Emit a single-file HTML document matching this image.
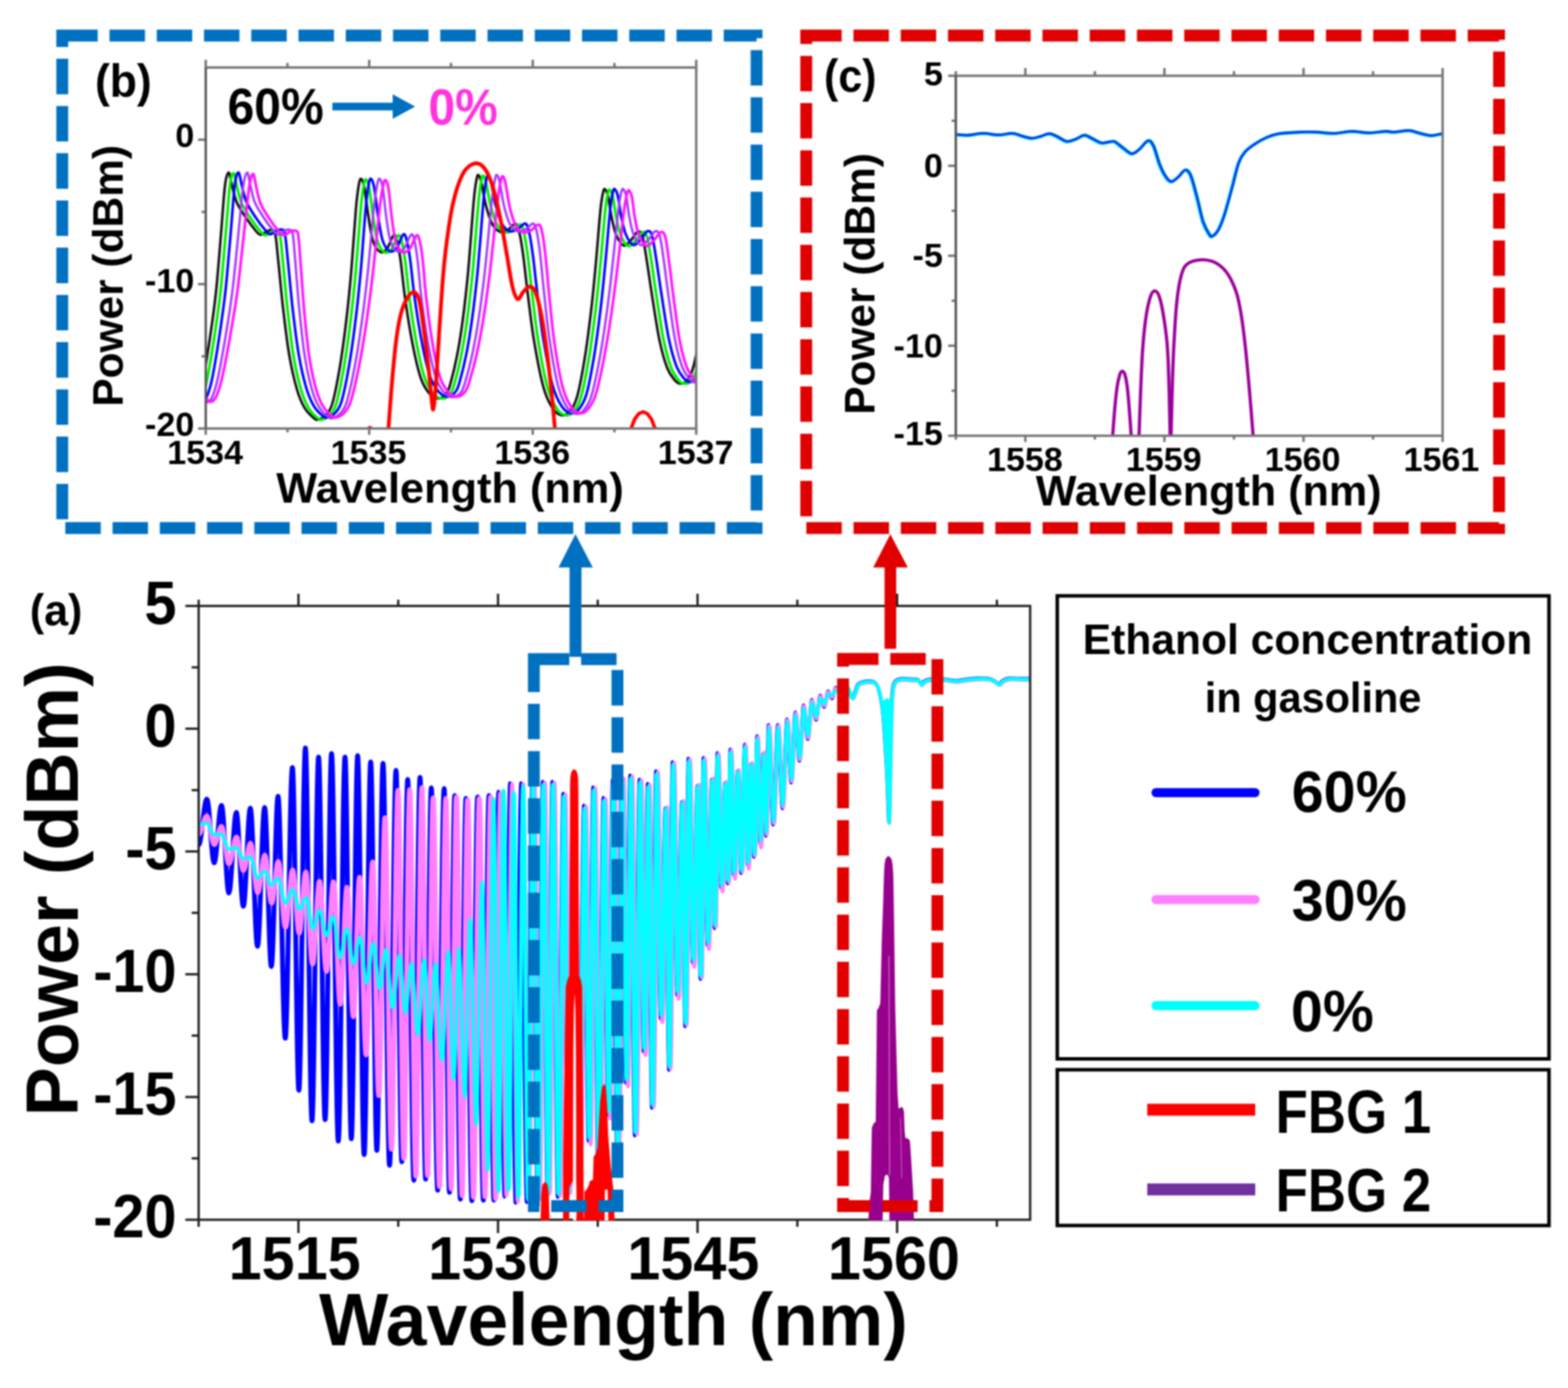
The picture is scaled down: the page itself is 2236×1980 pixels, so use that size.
<!DOCTYPE html>
<html lang="en">
<head>
<meta charset="utf-8">
<title>Ethanol concentration in gasoline - spectra</title>
<style>
html,body{margin:0;padding:0;background:#fff;}
body{width:2236px;height:1980px;overflow:hidden;}
svg{display:block;}
text{font-family:"Liberation Sans",Arial,Helvetica,sans-serif;font-weight:bold;fill:#000;}
</style>
</head>
<body>
<svg width="2236" height="1980" viewBox="0 0 2236 1980">
<defs><filter id="soft" x="0" y="0" width="2236" height="1980" filterUnits="userSpaceOnUse" color-interpolation-filters="sRGB"><feGaussianBlur stdDeviation="0.85"/></filter></defs>
<rect x="0" y="0" width="2236" height="1980" fill="#ffffff"/>
<g filter="url(#soft)">
<rect x="0" y="0" width="2236" height="1980" fill="#ffffff"/>
<defs><clipPath id="clipA"><rect x="283.3" y="864.4" width="1185.7" height="876.6"/></clipPath></defs>
<defs><clipPath id="clipAL"><rect x="283.3" y="864.4" width="428.7" height="876.6"/></clipPath><clipPath id="clipAR"><rect x="712" y="864.4" width="757" height="876.6"/></clipPath></defs>
<g fill="none" stroke-linejoin="round" stroke-linecap="round">
<path d="M283.3 1205C287.5 1205 290.8 1140 295 1140C298.7 1140 301.7 1230.8 305.4 1230.8C309.1 1230.8 312.1 1149 315.8 1149C319.6 1149 322.6 1273.7 326.4 1273.7C330.2 1273.7 333.2 1159 337 1159C340.6 1159 343.4 1292.7 347 1292.7C350.6 1292.7 353.4 1153 357 1153C360.7 1153 363.5 1350 367.2 1350C370.9 1350 373.7 1152 377.4 1152C380.8 1152 383.5 1378.7 386.9 1378.7C390.4 1378.7 393.1 1136 396.5 1136C400.2 1136 403.1 1481 406.8 1481C410.4 1481 413.3 1095 417 1095C420.3 1095 422.9 1555.2 426.2 1555.2C429.6 1555.2 432.2 1067 435.5 1067C438.9 1067 441.5 1598.8 444.9 1598.8C448.3 1598.8 450.9 1080 454.3 1080C457.6 1080 460.2 1597.2 463.6 1597.2C466.9 1597.2 469.5 1075 472.8 1075C476.3 1075 478.9 1627.8 482.4 1627.8C485.9 1627.8 488.5 1080 492 1080C495.2 1080 497.8 1624.4 501 1624.4C504.2 1624.4 506.8 1078 510 1078C513.3 1078 516 1647 519.3 1647C522.6 1647 525.3 1087 528.6 1087C531.8 1087 534.2 1641 537.4 1641C540.6 1641 543 1089 546.2 1089C549.5 1089 552.1 1662.3 555.5 1662.3C558.8 1662.3 561.4 1099 564.7 1099C567.7 1099 570 1657.2 573 1657.2C576.1 1657.2 578.4 1112 581.4 1112C584.6 1112 587 1683.7 590.2 1683.7C593.4 1683.7 595.8 1109 599 1109C601.9 1109 604.1 1682.1 607 1682.1C609.9 1682.1 612.1 1124 615 1124C618.3 1124 620.9 1697.8 624.2 1697.8C627.5 1697.8 630.1 1125 633.4 1125C636.1 1125 638.2 1700.9 641 1700.9C643.7 1700.9 645.8 1135 648.5 1135C651.4 1135 653.6 1710.6 656.5 1710.6C659.4 1710.6 661.6 1139 664.5 1139C667.5 1139 669.8 1712.9 672.9 1712.9C675.9 1712.9 678.2 1137 681.2 1137C684.1 1137 686.4 1712.1 689.3 1712.1C692.2 1712.1 694.5 1135 697.4 1135C699.9 1135 701.9 1712 704.4 1712C706.9 1712 708.9 1130 711.4 1130C714.3 1130 716.5 1707.3 719.3 1707.3C722.1 1707.3 724.4 1117 727.2 1117C730 1117 732.2 1716.1 735.1 1716.1C737.9 1716.1 740.1 1117 743 1117C745.9 1117 748.1 1715 751 1715C753.9 1715 756.1 1115 759 1115C761.7 1115 763.8 1713 766.5 1713C769.1 1713 771.2 1115 773.9 1115C776.3 1115 778.3 1704.2 780.7 1704.2C783.1 1704.2 785.1 1115 787.5 1115C790.3 1115 792.5 1707.7 795.4 1707.7C798.2 1707.7 800.4 1132 803.2 1132C805.6 1132 807.6 1703.5 810 1703.5C812.4 1703.5 814.4 1139 816.8 1139C819.6 1139 821.9 1696.2 824.7 1696.2C827.5 1696.2 829.8 1149 832.6 1149C835 1149 836.8 1627.6 839.2 1627.6C841.6 1627.6 843.4 1123 845.8 1123C848.4 1123 850.5 1674.9 853.1 1674.9C855.7 1674.9 857.8 1138 860.4 1138C862.8 1138 864.7 1590.5 867 1590.5C869.4 1590.5 871.3 1112 873.7 1112C876 1112 877.7 1651 880 1651C882.3 1651 884 1109 886.3 1109C888.5 1109 890.2 1544.8 892.5 1544.8C894.7 1544.8 896.4 1106 898.6 1106C901 1106 902.8 1620 905.2 1620C907.6 1620 909.5 1112 911.9 1112C914 1112 915.6 1500.2 917.8 1500.2C919.9 1500.2 921.6 1118 923.7 1118C925.8 1118 927.5 1580.5 929.6 1580.5C931.7 1580.5 933.3 1100 935.4 1100C937.8 1100 939.7 1453.1 942.1 1453.1C944.5 1453.1 946.3 1153 948.7 1153C950.6 1153 952 1526.3 953.9 1526.3C955.7 1526.3 957.2 1087 959 1087C961.4 1087 963.3 1419.7 965.7 1419.7C968.1 1419.7 969.9 1144 972.3 1144C974 1144 975.3 1464.1 977 1464.1C978.7 1464.1 980 1082 981.7 1082C984 1082 985.8 1374.1 988.1 1374.1C990.3 1374.1 992.1 1121 994.4 1121C996 1121 997.2 1396.8 998.8 1396.8C1000.4 1396.8 1001.6 1081 1003.2 1081C1005.3 1081 1007 1349 1009.1 1349C1011.3 1349 1012.9 1112 1015 1112C1016.5 1112 1017.6 1324.3 1019 1324.3C1020.4 1324.3 1021.5 1074 1023 1074C1025 1074 1026.5 1266.7 1028.5 1266.7C1030.5 1266.7 1032.1 1117 1034.1 1117C1035.4 1117 1036.5 1260.5 1037.8 1260.5C1039.2 1260.5 1040.2 1069 1041.5 1069C1043.4 1069 1044.8 1248.6 1046.6 1248.6C1048.5 1248.6 1049.9 1100 1051.8 1100C1053.6 1100 1055.1 1245.6 1056.9 1245.6C1058.8 1245.6 1060.2 1062 1062.1 1062C1063.7 1062 1064.9 1234.3 1066.5 1234.3C1068.1 1234.3 1069.3 1090 1070.9 1090C1072.5 1090 1073.7 1222.5 1075.3 1222.5C1076.9 1222.5 1078.2 1050 1079.7 1050C1081.4 1050 1082.6 1204 1084.2 1204C1085.8 1204 1087.1 1075 1088.7 1075C1090 1075 1091 1192.4 1092.3 1192.4C1093.7 1192.4 1094.7 1034 1096 1034C1098.4 1034 1100.2 1176.5 1102.6 1176.5C1105 1176.5 1106.9 1034 1109.2 1034C1111.6 1034 1113.5 1153.3 1115.9 1153.3C1118.2 1153.3 1120.1 1026 1122.5 1026C1124.6 1026 1126.2 1116.6 1128.3 1116.6C1130.5 1116.6 1132.1 1016 1134.2 1016C1136.3 1016 1138 1085.6 1140.1 1085.6C1142.3 1085.6 1143.9 1006 1146 1006C1148.2 1006 1149.8 1054.3 1152 1054.3C1154.1 1054.3 1155.8 998 1157.9 998C1160 998 1161.6 1027.1 1163.8 1027.1C1165.9 1027.1 1167.5 992 1169.6 992C1171.7 992 1173.2 1008.7 1175.3 1008.7C1177.3 1008.7 1178.9 986 1181 986C1182.9 986 1184.5 996.4 1186.5 996.4C1188.5 996.4 1190 981 1192 981" stroke="#0000ff" stroke-width="6.9" clip-path="url(#clipAL)"/>
<path d="M283.3 1205C287.5 1205 290.8 1140 295 1140C298.7 1140 301.7 1230.8 305.4 1230.8C309.1 1230.8 312.1 1149 315.8 1149C319.6 1149 322.6 1273.7 326.4 1273.7C330.2 1273.7 333.2 1159 337 1159C340.6 1159 343.4 1292.7 347 1292.7C350.6 1292.7 353.4 1153 357 1153C360.7 1153 363.5 1350 367.2 1350C370.9 1350 373.7 1152 377.4 1152C380.8 1152 383.5 1378.7 386.9 1378.7C390.4 1378.7 393.1 1136 396.5 1136C400.2 1136 403.1 1481 406.8 1481C410.4 1481 413.3 1095 417 1095C420.3 1095 422.9 1555.2 426.2 1555.2C429.6 1555.2 432.2 1067 435.5 1067C438.9 1067 441.5 1598.8 444.9 1598.8C448.3 1598.8 450.9 1080 454.3 1080C457.6 1080 460.2 1597.2 463.6 1597.2C466.9 1597.2 469.5 1075 472.8 1075C476.3 1075 478.9 1627.8 482.4 1627.8C485.9 1627.8 488.5 1080 492 1080C495.2 1080 497.8 1624.4 501 1624.4C504.2 1624.4 506.8 1078 510 1078C513.3 1078 516 1647 519.3 1647C522.6 1647 525.3 1087 528.6 1087C531.8 1087 534.2 1641 537.4 1641C540.6 1641 543 1089 546.2 1089C549.5 1089 552.1 1662.3 555.5 1662.3C558.8 1662.3 561.4 1099 564.7 1099C567.7 1099 570 1657.2 573 1657.2C576.1 1657.2 578.4 1112 581.4 1112C584.6 1112 587 1683.7 590.2 1683.7C593.4 1683.7 595.8 1109 599 1109C601.9 1109 604.1 1682.1 607 1682.1C609.9 1682.1 612.1 1124 615 1124C618.3 1124 620.9 1697.8 624.2 1697.8C627.5 1697.8 630.1 1125 633.4 1125C636.1 1125 638.2 1700.9 641 1700.9C643.7 1700.9 645.8 1135 648.5 1135C651.4 1135 653.6 1710.6 656.5 1710.6C659.4 1710.6 661.6 1139 664.5 1139C667.5 1139 669.8 1712.9 672.9 1712.9C675.9 1712.9 678.2 1137 681.2 1137C684.1 1137 686.4 1712.1 689.3 1712.1C692.2 1712.1 694.5 1135 697.4 1135C699.9 1135 701.9 1712 704.4 1712C706.9 1712 708.9 1130 711.4 1130C714.3 1130 716.5 1707.3 719.3 1707.3C722.1 1707.3 724.4 1117 727.2 1117C730 1117 732.2 1716.1 735.1 1716.1C737.9 1716.1 740.1 1117 743 1117C745.9 1117 748.1 1715 751 1715C753.9 1715 756.1 1115 759 1115C761.7 1115 763.8 1713 766.5 1713C769.1 1713 771.2 1115 773.9 1115C776.3 1115 778.3 1704.2 780.7 1704.2C783.1 1704.2 785.1 1115 787.5 1115C790.3 1115 792.5 1707.7 795.4 1707.7C798.2 1707.7 800.4 1132 803.2 1132C805.6 1132 807.6 1703.5 810 1703.5C812.4 1703.5 814.4 1139 816.8 1139C819.6 1139 821.9 1696.2 824.7 1696.2C827.5 1696.2 829.8 1149 832.6 1149C835 1149 836.8 1627.6 839.2 1627.6C841.6 1627.6 843.4 1123 845.8 1123C848.4 1123 850.5 1674.9 853.1 1674.9C855.7 1674.9 857.8 1138 860.4 1138C862.8 1138 864.7 1590.5 867 1590.5C869.4 1590.5 871.3 1112 873.7 1112C876 1112 877.7 1651 880 1651C882.3 1651 884 1109 886.3 1109C888.5 1109 890.2 1544.8 892.5 1544.8C894.7 1544.8 896.4 1106 898.6 1106C901 1106 902.8 1620 905.2 1620C907.6 1620 909.5 1112 911.9 1112C914 1112 915.6 1500.2 917.8 1500.2C919.9 1500.2 921.6 1118 923.7 1118C925.8 1118 927.5 1580.5 929.6 1580.5C931.7 1580.5 933.3 1100 935.4 1100C937.8 1100 939.7 1453.1 942.1 1453.1C944.5 1453.1 946.3 1153 948.7 1153C950.6 1153 952 1526.3 953.9 1526.3C955.7 1526.3 957.2 1087 959 1087C961.4 1087 963.3 1419.7 965.7 1419.7C968.1 1419.7 969.9 1144 972.3 1144C974 1144 975.3 1464.1 977 1464.1C978.7 1464.1 980 1082 981.7 1082C984 1082 985.8 1374.1 988.1 1374.1C990.3 1374.1 992.1 1121 994.4 1121C996 1121 997.2 1396.8 998.8 1396.8C1000.4 1396.8 1001.6 1081 1003.2 1081C1005.3 1081 1007 1349 1009.1 1349C1011.3 1349 1012.9 1112 1015 1112C1016.5 1112 1017.6 1324.3 1019 1324.3C1020.4 1324.3 1021.5 1074 1023 1074C1025 1074 1026.5 1266.7 1028.5 1266.7C1030.5 1266.7 1032.1 1117 1034.1 1117C1035.4 1117 1036.5 1260.5 1037.8 1260.5C1039.2 1260.5 1040.2 1069 1041.5 1069C1043.4 1069 1044.8 1248.6 1046.6 1248.6C1048.5 1248.6 1049.9 1100 1051.8 1100C1053.6 1100 1055.1 1245.6 1056.9 1245.6C1058.8 1245.6 1060.2 1062 1062.1 1062C1063.7 1062 1064.9 1234.3 1066.5 1234.3C1068.1 1234.3 1069.3 1090 1070.9 1090C1072.5 1090 1073.7 1222.5 1075.3 1222.5C1076.9 1222.5 1078.2 1050 1079.7 1050C1081.4 1050 1082.6 1204 1084.2 1204C1085.8 1204 1087.1 1075 1088.7 1075C1090 1075 1091 1192.4 1092.3 1192.4C1093.7 1192.4 1094.7 1034 1096 1034C1098.4 1034 1100.2 1176.5 1102.6 1176.5C1105 1176.5 1106.9 1034 1109.2 1034C1111.6 1034 1113.5 1153.3 1115.9 1153.3C1118.2 1153.3 1120.1 1026 1122.5 1026C1124.6 1026 1126.2 1116.6 1128.3 1116.6C1130.5 1116.6 1132.1 1016 1134.2 1016C1136.3 1016 1138 1085.6 1140.1 1085.6C1142.3 1085.6 1143.9 1006 1146 1006C1148.2 1006 1149.8 1054.3 1152 1054.3C1154.1 1054.3 1155.8 998 1157.9 998C1160 998 1161.6 1027.1 1163.8 1027.1C1165.9 1027.1 1167.5 992 1169.6 992C1171.7 992 1173.2 1008.7 1175.3 1008.7C1177.3 1008.7 1178.9 986 1181 986C1182.9 986 1184.5 996.4 1186.5 996.4C1188.5 996.4 1190 981 1192 981" stroke="#0000ff" stroke-width="5" clip-path="url(#clipAR)"/>
<path d="M283.3 1190C287.5 1190 290.8 1164 295 1164C298.8 1164 301.7 1204.8 305.5 1204.8C309.2 1204.8 312.1 1179 315.9 1179C319.7 1179 322.7 1232.2 326.5 1232.2C330.4 1232.2 333.3 1194 337.2 1194C340.8 1194 343.6 1241.6 347.2 1241.6C350.8 1241.6 353.6 1203 357.2 1203C360.9 1203 363.8 1273.2 367.5 1273.2C371.2 1273.2 374 1220 377.7 1220C381.1 1220 383.8 1288.3 387.3 1288.3C390.7 1288.3 393.4 1229 396.9 1229C400.6 1229 403.4 1322.9 407.1 1322.9C410.8 1322.9 413.7 1241 417.4 1241C420.8 1241 423.4 1331.5 426.7 1331.5C430 1331.5 432.6 1243.9 436 1243.9C439.5 1243.9 442.2 1375.3 445.7 1375.3C449.3 1375.3 452.1 1257.3 455.7 1257.3C459.3 1257.3 462 1385.7 465.6 1385.7C469.1 1385.7 471.9 1258 475.5 1258C479 1258 481.7 1432.5 485.2 1432.5C488.7 1432.5 491.3 1265.7 494.8 1265.7C498 1265.7 500.6 1450.2 503.8 1450.2C507 1450.2 509.6 1251.5 512.8 1251.5C516.1 1251.5 518.8 1504.9 522.1 1504.9C525.4 1504.9 528.1 1229.5 531.4 1229.5C534.6 1229.5 537 1562.8 540.2 1562.8C543.4 1562.8 545.8 1166.4 549 1166.4C552.3 1166.4 554.9 1639.3 558.2 1639.3C561.6 1639.3 564.2 1127.5 567.5 1127.5C570.5 1127.5 572.8 1652.5 575.8 1652.5C578.9 1652.5 581.2 1126.5 584.2 1126.5C587.4 1126.5 589.8 1677.8 593 1677.8C596.1 1677.8 598.6 1123.4 601.7 1123.4C604.6 1123.4 606.8 1677.1 609.7 1677.1C612.5 1677.1 614.7 1138.3 617.6 1138.3C620.9 1138.3 623.4 1692.8 626.7 1692.8C630 1692.8 632.6 1139.1 635.9 1139.1C638.6 1139.1 640.6 1695.9 643.3 1695.9C646.1 1695.9 648.2 1137 650.9 1137C653.8 1137 656 1705.6 658.9 1705.6C661.7 1705.6 664 1141 666.9 1141C669.9 1141 672.2 1707.9 675.2 1707.9C678.2 1707.9 680.5 1139 683.5 1139C686.4 1139 688.7 1707.1 691.6 1707.1C694.5 1707.1 696.8 1137 699.7 1137C702.3 1137 704.3 1710 706.8 1710C709.4 1710 711.4 1131.5 714 1131.5C716.9 1131.5 719.2 1705.3 722.1 1705.3C725 1705.3 727.2 1118.5 730.2 1118.5C733 1118.5 735.3 1714.1 738.2 1714.1C741.1 1714.1 743.3 1118.5 746.2 1118.5C749.1 1118.5 751.3 1713 754.2 1713C757.1 1713 759.3 1116.5 762.2 1116.5C764.9 1116.5 767 1711 769.6 1711C772.3 1711 774.4 1116.5 777.1 1116.5C779.5 1116.5 781.4 1702.2 783.9 1702.2C786.3 1702.2 788.2 1116.5 790.7 1116.5C793.5 1116.5 795.7 1705.7 798.5 1705.7C801.3 1705.7 803.5 1133.5 806.3 1133.5C808.8 1133.5 810.7 1701.5 813.1 1701.5C815.6 1701.5 817.5 1140.5 819.9 1140.5C822.8 1140.5 825 1694.2 827.8 1694.2C830.6 1694.2 832.9 1150.5 835.7 1150.5C838.1 1150.5 839.9 1632.6 842.3 1632.6C844.7 1632.6 846.5 1124.5 848.9 1124.5C851.5 1124.5 853.5 1672.9 856.2 1672.9C858.8 1672.9 860.8 1139.5 863.5 1139.5C865.8 1139.5 867.7 1595.5 870.1 1595.5C872.5 1595.5 874.3 1113.5 876.7 1113.5C879 1113.5 880.8 1649 883 1649C885.3 1649 887.1 1110.5 889.3 1110.5C891.5 1110.5 893.2 1549.8 895.5 1549.8C897.7 1549.8 899.4 1107.5 901.6 1107.5C904 1107.5 905.8 1618 908.2 1618C910.5 1618 912.4 1113.5 914.7 1113.5C916.8 1113.5 918.5 1505.2 920.6 1505.2C922.7 1505.2 924.3 1119.5 926.5 1119.5C928.5 1119.5 930.2 1578.5 932.3 1578.5C934.4 1578.5 936 1101.5 938.1 1101.5C940.4 1101.5 942.3 1458.1 944.6 1458.1C947 1458.1 948.8 1151.5 951.2 1151.5C953 1151.5 954.5 1524.3 956.3 1524.3C958.2 1524.3 959.6 1088.5 961.4 1088.5C963.8 1088.5 965.6 1424.7 968 1424.7C970.4 1424.7 972.2 1142.5 974.6 1142.5C976.2 1142.5 977.6 1462.1 979.2 1462.1C980.9 1462.1 982.2 1083.5 983.9 1083.5C986.2 1083.5 987.9 1379.1 990.2 1379.1C992.4 1379.1 994.2 1119.5 996.4 1119.5C998 1119.5 999.2 1394.8 1000.8 1394.8C1002.4 1394.8 1003.6 1082.5 1005.2 1082.5C1007.3 1082.5 1008.9 1354 1011 1354C1013.2 1354 1014.8 1110.5 1016.9 1110.5C1018.3 1110.5 1019.4 1322.3 1020.8 1322.3C1022.2 1322.3 1023.3 1075.5 1024.8 1075.5C1026.7 1075.5 1028.3 1271.7 1030.3 1271.7C1032.3 1271.7 1033.8 1115.5 1035.8 1115.5C1037.1 1115.5 1038.1 1258.5 1039.5 1258.5C1040.8 1258.5 1041.8 1070.5 1043.1 1070.5C1045 1070.5 1046.4 1253.6 1048.2 1253.6C1050 1253.6 1051.5 1098.5 1053.3 1098.5C1055.1 1098.5 1056.6 1243.6 1058.4 1243.6C1060.2 1243.6 1061.7 1063.5 1063.5 1063.5C1065.1 1063.5 1066.3 1239.3 1067.9 1239.3C1069.5 1239.3 1070.7 1088.5 1072.3 1088.5C1073.8 1088.5 1075.1 1220.5 1076.6 1220.5C1078.2 1220.5 1079.4 1051.5 1081 1051.5C1082.6 1051.5 1083.9 1209 1085.4 1209C1087 1209 1088.3 1073.5 1089.9 1073.5C1091.2 1073.5 1092.2 1190.4 1093.5 1190.4C1094.8 1190.4 1095.8 1035.5 1097.1 1035.5C1099.5 1035.5 1101.3 1174.5 1103.7 1174.5C1106 1174.5 1107.9 1035.5 1110.2 1035.5C1112.6 1035.5 1114.4 1151.3 1116.8 1151.3C1119.1 1151.3 1121 1027.5 1123.3 1027.5C1125.4 1027.5 1127 1114.6 1129.1 1114.6C1131.2 1114.6 1132.8 1017.5 1134.9 1017.5C1137 1017.5 1138.7 1083.6 1140.8 1083.6C1142.9 1083.6 1144.5 1007.5 1146.6 1007.5C1148.7 1007.5 1150.4 1052.3 1152.5 1052.3C1154.6 1052.3 1156.2 999.5 1158.3 999.5C1160.4 999.5 1162 1025.1 1164.1 1025.1C1166.2 1025.1 1167.8 993.5 1169.9 993.5C1171.9 993.5 1173.5 1006.7 1175.5 1006.7C1177.5 1006.7 1179.1 987.5 1181.1 987.5C1183.1 987.5 1184.6 994.4 1186.6 994.4C1188.5 994.4 1190.1 982.5 1192 982.5" stroke="#ff80ff" stroke-width="7" clip-path="url(#clipAL)"/>
<path d="M283.3 1190C287.5 1190 290.8 1164 295 1164C298.8 1164 301.7 1204.8 305.5 1204.8C309.2 1204.8 312.1 1179 315.9 1179C319.7 1179 322.7 1232.2 326.5 1232.2C330.4 1232.2 333.3 1194 337.2 1194C340.8 1194 343.6 1241.6 347.2 1241.6C350.8 1241.6 353.6 1203 357.2 1203C360.9 1203 363.8 1273.2 367.5 1273.2C371.2 1273.2 374 1220 377.7 1220C381.1 1220 383.8 1288.3 387.3 1288.3C390.7 1288.3 393.4 1229 396.9 1229C400.6 1229 403.4 1322.9 407.1 1322.9C410.8 1322.9 413.7 1241 417.4 1241C420.8 1241 423.4 1331.5 426.7 1331.5C430 1331.5 432.6 1243.9 436 1243.9C439.5 1243.9 442.2 1375.3 445.7 1375.3C449.3 1375.3 452.1 1257.3 455.7 1257.3C459.3 1257.3 462 1385.7 465.6 1385.7C469.1 1385.7 471.9 1258 475.5 1258C479 1258 481.7 1432.5 485.2 1432.5C488.7 1432.5 491.3 1265.7 494.8 1265.7C498 1265.7 500.6 1450.2 503.8 1450.2C507 1450.2 509.6 1251.5 512.8 1251.5C516.1 1251.5 518.8 1504.9 522.1 1504.9C525.4 1504.9 528.1 1229.5 531.4 1229.5C534.6 1229.5 537 1562.8 540.2 1562.8C543.4 1562.8 545.8 1166.4 549 1166.4C552.3 1166.4 554.9 1639.3 558.2 1639.3C561.6 1639.3 564.2 1127.5 567.5 1127.5C570.5 1127.5 572.8 1652.5 575.8 1652.5C578.9 1652.5 581.2 1126.5 584.2 1126.5C587.4 1126.5 589.8 1677.8 593 1677.8C596.1 1677.8 598.6 1123.4 601.7 1123.4C604.6 1123.4 606.8 1677.1 609.7 1677.1C612.5 1677.1 614.7 1138.3 617.6 1138.3C620.9 1138.3 623.4 1692.8 626.7 1692.8C630 1692.8 632.6 1139.1 635.9 1139.1C638.6 1139.1 640.6 1695.9 643.3 1695.9C646.1 1695.9 648.2 1137 650.9 1137C653.8 1137 656 1705.6 658.9 1705.6C661.7 1705.6 664 1141 666.9 1141C669.9 1141 672.2 1707.9 675.2 1707.9C678.2 1707.9 680.5 1139 683.5 1139C686.4 1139 688.7 1707.1 691.6 1707.1C694.5 1707.1 696.8 1137 699.7 1137C702.3 1137 704.3 1710 706.8 1710C709.4 1710 711.4 1131.5 714 1131.5C716.9 1131.5 719.2 1705.3 722.1 1705.3C725 1705.3 727.2 1118.5 730.2 1118.5C733 1118.5 735.3 1714.1 738.2 1714.1C741.1 1714.1 743.3 1118.5 746.2 1118.5C749.1 1118.5 751.3 1713 754.2 1713C757.1 1713 759.3 1116.5 762.2 1116.5C764.9 1116.5 767 1711 769.6 1711C772.3 1711 774.4 1116.5 777.1 1116.5C779.5 1116.5 781.4 1702.2 783.9 1702.2C786.3 1702.2 788.2 1116.5 790.7 1116.5C793.5 1116.5 795.7 1705.7 798.5 1705.7C801.3 1705.7 803.5 1133.5 806.3 1133.5C808.8 1133.5 810.7 1701.5 813.1 1701.5C815.6 1701.5 817.5 1140.5 819.9 1140.5C822.8 1140.5 825 1694.2 827.8 1694.2C830.6 1694.2 832.9 1150.5 835.7 1150.5C838.1 1150.5 839.9 1632.6 842.3 1632.6C844.7 1632.6 846.5 1124.5 848.9 1124.5C851.5 1124.5 853.5 1672.9 856.2 1672.9C858.8 1672.9 860.8 1139.5 863.5 1139.5C865.8 1139.5 867.7 1595.5 870.1 1595.5C872.5 1595.5 874.3 1113.5 876.7 1113.5C879 1113.5 880.8 1649 883 1649C885.3 1649 887.1 1110.5 889.3 1110.5C891.5 1110.5 893.2 1549.8 895.5 1549.8C897.7 1549.8 899.4 1107.5 901.6 1107.5C904 1107.5 905.8 1618 908.2 1618C910.5 1618 912.4 1113.5 914.7 1113.5C916.8 1113.5 918.5 1505.2 920.6 1505.2C922.7 1505.2 924.3 1119.5 926.5 1119.5C928.5 1119.5 930.2 1578.5 932.3 1578.5C934.4 1578.5 936 1101.5 938.1 1101.5C940.4 1101.5 942.3 1458.1 944.6 1458.1C947 1458.1 948.8 1151.5 951.2 1151.5C953 1151.5 954.5 1524.3 956.3 1524.3C958.2 1524.3 959.6 1088.5 961.4 1088.5C963.8 1088.5 965.6 1424.7 968 1424.7C970.4 1424.7 972.2 1142.5 974.6 1142.5C976.2 1142.5 977.6 1462.1 979.2 1462.1C980.9 1462.1 982.2 1083.5 983.9 1083.5C986.2 1083.5 987.9 1379.1 990.2 1379.1C992.4 1379.1 994.2 1119.5 996.4 1119.5C998 1119.5 999.2 1394.8 1000.8 1394.8C1002.4 1394.8 1003.6 1082.5 1005.2 1082.5C1007.3 1082.5 1008.9 1354 1011 1354C1013.2 1354 1014.8 1110.5 1016.9 1110.5C1018.3 1110.5 1019.4 1322.3 1020.8 1322.3C1022.2 1322.3 1023.3 1075.5 1024.8 1075.5C1026.7 1075.5 1028.3 1271.7 1030.3 1271.7C1032.3 1271.7 1033.8 1115.5 1035.8 1115.5C1037.1 1115.5 1038.1 1258.5 1039.5 1258.5C1040.8 1258.5 1041.8 1070.5 1043.1 1070.5C1045 1070.5 1046.4 1253.6 1048.2 1253.6C1050 1253.6 1051.5 1098.5 1053.3 1098.5C1055.1 1098.5 1056.6 1243.6 1058.4 1243.6C1060.2 1243.6 1061.7 1063.5 1063.5 1063.5C1065.1 1063.5 1066.3 1239.3 1067.9 1239.3C1069.5 1239.3 1070.7 1088.5 1072.3 1088.5C1073.8 1088.5 1075.1 1220.5 1076.6 1220.5C1078.2 1220.5 1079.4 1051.5 1081 1051.5C1082.6 1051.5 1083.9 1209 1085.4 1209C1087 1209 1088.3 1073.5 1089.9 1073.5C1091.2 1073.5 1092.2 1190.4 1093.5 1190.4C1094.8 1190.4 1095.8 1035.5 1097.1 1035.5C1099.5 1035.5 1101.3 1174.5 1103.7 1174.5C1106 1174.5 1107.9 1035.5 1110.2 1035.5C1112.6 1035.5 1114.4 1151.3 1116.8 1151.3C1119.1 1151.3 1121 1027.5 1123.3 1027.5C1125.4 1027.5 1127 1114.6 1129.1 1114.6C1131.2 1114.6 1132.8 1017.5 1134.9 1017.5C1137 1017.5 1138.7 1083.6 1140.8 1083.6C1142.9 1083.6 1144.5 1007.5 1146.6 1007.5C1148.7 1007.5 1150.4 1052.3 1152.5 1052.3C1154.6 1052.3 1156.2 999.5 1158.3 999.5C1160.4 999.5 1162 1025.1 1164.1 1025.1C1166.2 1025.1 1167.8 993.5 1169.9 993.5C1171.9 993.5 1173.5 1006.7 1175.5 1006.7C1177.5 1006.7 1179.1 987.5 1181.1 987.5C1183.1 987.5 1184.6 994.4 1186.6 994.4C1188.5 994.4 1190.1 982.5 1192 982.5" stroke="#ff80ff" stroke-width="5.5" clip-path="url(#clipAR)"/>
</g>
<g clip-path="url(#clipA)" fill="none" stroke-linejoin="round" stroke-linecap="round">
<path d="M1192 981C1192.4 981.5 1193.2 984.2 1194.4 984C1195.6 983.8 1197.6 981.3 1199.4 980C1201.2 978.7 1203.6 975.3 1205.4 976C1207.2 976.7 1208.8 980.8 1210.4 984C1212 987.2 1213.4 994.5 1214.9 995C1216.4 995.5 1218 990.2 1219.4 987C1220.8 983.8 1221.4 978.4 1223.4 976C1225.4 973.6 1228.7 973.2 1231.4 972.5C1234.1 971.8 1236.9 971.4 1239.4 971.5C1241.9 971.6 1244.4 971.8 1246.4 973C1248.4 974.2 1250 975.8 1251.4 979C1252.8 982.2 1253.8 987 1254.9 992C1256 997 1257.1 1002.8 1257.9 1009C1258.8 1015.2 1259.4 1022.3 1260 1029C1260.6 1035.7 1260.9 1041.5 1261.4 1049C1261.9 1056.5 1262.5 1065.7 1263 1074C1263.5 1082.3 1264 1089.8 1264.4 1099C1264.9 1108.2 1265.3 1119.3 1265.7 1129C1266.1 1138.7 1266.4 1149.8 1266.7 1157C1267 1164.2 1267.2 1172.5 1267.4 1172.5C1267.6 1172.5 1267.9 1164.2 1268.1 1157C1268.3 1149.8 1268.4 1138.7 1268.6 1129C1268.8 1119.3 1268.9 1108.2 1269.1 1099C1269.3 1089.8 1269.4 1082.3 1269.6 1074C1269.8 1065.7 1269.9 1056.5 1270.1 1049C1270.3 1041.5 1270.4 1035.7 1270.6 1029C1270.8 1022.3 1271 1015.2 1271.2 1009C1271.4 1002.8 1271.6 997 1272 992C1272.4 987 1272.7 982.3 1273.4 979C1274.1 975.7 1275.1 973.7 1276.4 972C1277.7 970.3 1279.2 969.7 1281.4 969C1283.6 968.3 1286.4 968 1289.4 968C1292.4 968 1296.1 968.7 1299.4 969C1302.7 969.3 1307.1 968.8 1309.4 970C1311.7 971.2 1312.1 975.7 1313.4 976C1314.7 976.3 1315.4 973.2 1317.4 972C1319.4 970.8 1321.7 969.7 1325.4 969C1329.1 968.3 1334.6 967.8 1339.4 968C1344.2 968.2 1350.2 969.5 1354.4 970C1358.6 970.5 1360.6 971.2 1364.4 971C1368.2 970.8 1372.4 969.6 1377.4 969C1382.4 968.4 1389.1 967.7 1394.4 967.5C1399.7 967.3 1405.6 967.4 1409.4 968C1413.2 968.6 1414.9 969.8 1417.4 971C1419.9 972.2 1422.2 975.6 1424.4 975.5C1426.6 975.4 1427.9 971.8 1430.4 970.5C1432.9 969.2 1435.4 967.9 1439.4 967.5C1443.4 967.1 1449.1 967.9 1454.4 968C1459.7 968.1 1468.6 968 1471.4 968" stroke="#4040ff" stroke-width="5"/>
<path d="M1192 982.5C1192.6 983.1 1194 986 1195.4 985.9C1196.8 985.8 1198.6 983.2 1200.4 981.9C1202.2 980.6 1204.6 977.2 1206.4 977.9C1208.2 978.6 1209.8 982.7 1211.4 985.9C1213 989.1 1214.4 996.4 1215.9 996.9C1217.4 997.4 1219 992.1 1220.4 988.9C1221.8 985.7 1222.4 980.3 1224.4 977.9C1226.4 975.5 1229.7 975.1 1232.4 974.4C1235.1 973.6 1237.9 973.3 1240.4 973.4C1242.9 973.5 1245.4 973.6 1247.4 974.9C1249.4 976.1 1251 977.7 1252.4 980.9C1253.8 984.1 1254.8 988.9 1255.9 993.9C1257 998.9 1258.1 1004.7 1258.9 1010.9C1259.8 1017.1 1260.4 1024.2 1261 1030.9C1261.6 1037.6 1261.9 1043.4 1262.4 1050.9C1262.9 1058.4 1263.5 1067.6 1264 1075.9C1264.5 1084.2 1265 1091.7 1265.4 1100.9C1265.9 1110.1 1266.3 1121.2 1266.7 1130.9C1267.1 1140.6 1267.4 1151.7 1267.7 1158.9C1268 1166.2 1268.2 1174.4 1268.4 1174.4C1268.6 1174.4 1268.9 1166.2 1269.1 1158.9C1269.3 1151.7 1269.4 1140.6 1269.6 1130.9C1269.8 1121.2 1269.9 1110.1 1270.1 1100.9C1270.3 1091.7 1270.4 1084.2 1270.6 1075.9C1270.8 1067.6 1270.9 1058.4 1271.1 1050.9C1271.3 1043.4 1271.4 1037.6 1271.6 1030.9C1271.8 1024.2 1272 1017.1 1272.2 1010.9C1272.4 1004.7 1272.6 998.9 1273 993.9C1273.4 988.9 1273.7 984.2 1274.4 980.9C1275.1 977.6 1276.1 975.6 1277.4 973.9C1278.7 972.2 1280.2 971.6 1282.4 970.9C1284.6 970.2 1287.4 969.9 1290.4 969.9C1293.4 969.9 1297.1 970.6 1300.4 970.9C1303.7 971.2 1308.1 970.7 1310.4 971.9C1312.7 973.1 1313.1 977.6 1314.4 977.9C1315.7 978.2 1316.4 975.1 1318.4 973.9C1320.4 972.7 1322.7 971.6 1326.4 970.9C1330.1 970.2 1335.6 969.7 1340.4 969.9C1345.2 970.1 1351.2 971.4 1355.4 971.9C1359.6 972.4 1361.6 973.1 1365.4 972.9C1369.2 972.7 1373.4 971.5 1378.4 970.9C1383.4 970.3 1390.1 969.6 1395.4 969.4C1400.7 969.2 1406.6 969.3 1410.4 969.9C1414.2 970.5 1415.9 971.6 1418.4 972.9C1420.9 974.1 1423.2 977.5 1425.4 977.4C1427.6 977.3 1428.9 973.7 1431.4 972.4C1433.9 971.1 1436.4 969.8 1440.4 969.4C1444.4 969 1450.1 969.8 1455.4 969.9C1460.7 970 1469.6 969.9 1472.4 969.9" stroke="#ff80ff" stroke-width="5"/>
<path d="M283.3 1177C287.5 1177 290.8 1174 295 1174C298.7 1174 301.7 1190.4 305.4 1190.4C309.1 1190.4 312.1 1190.4 315.8 1190.4C319.6 1190.4 322.6 1211.3 326.4 1211.3C330.2 1211.3 333.2 1209.4 337 1209.4C340.6 1209.4 343.4 1224.5 347 1224.5C350.6 1224.5 353.4 1222.6 357 1222.6C360.7 1222.6 363.5 1252.1 367.2 1252.1C370.9 1252.1 373.7 1243 377.4 1243C380.8 1243 383.5 1262.2 386.9 1262.2C390.4 1262.2 393.1 1253 396.5 1253C400.3 1253 403.2 1288.1 407 1288.1C410.8 1288.1 413.7 1269.3 417.5 1269.3C420.9 1269.3 423.6 1296.9 427 1296.9C430.5 1296.9 433.1 1280.5 436.6 1280.5C440.1 1280.5 442.8 1324.6 446.2 1324.6C449.7 1324.6 452.4 1298.9 455.9 1298.9C459.4 1298.9 462 1334.4 465.5 1334.4C468.9 1334.4 471.6 1307.6 475 1307.6C478.5 1307.6 481.3 1366 484.9 1366C488.4 1366 491.2 1325 494.8 1325C498.1 1325 500.7 1374.6 504 1374.6C507.4 1374.6 510 1337.1 513.3 1337.1C516.7 1337.1 519.4 1402 522.9 1402C526.3 1402 529 1345.8 532.5 1345.8C535.7 1345.8 538.3 1409.9 541.5 1409.9C544.8 1409.9 547.3 1354 550.6 1354C554 1354 556.7 1437.8 560.1 1437.8C563.5 1437.8 566.2 1363 569.6 1363C572.7 1363 575.1 1444.9 578.2 1444.9C581.3 1444.9 583.7 1374.7 586.8 1374.7C590.1 1374.7 592.6 1476 595.9 1476C599.2 1476 601.7 1369 605 1369C607.9 1369 610.1 1484.3 613 1484.3C615.9 1484.3 618.2 1374.5 621 1374.5C624.4 1374.5 626.9 1512.1 630.3 1512.1C633.6 1512.1 636.2 1357.5 639.5 1357.5C642.2 1357.5 644.3 1538.9 647.1 1538.9C649.8 1538.9 651.9 1353.4 654.6 1353.4C657.5 1353.4 659.8 1564.2 662.7 1564.2C665.5 1564.2 667.8 1311.6 670.7 1311.6C673.7 1311.6 676 1604.5 679 1604.5C682.1 1604.5 684.4 1258.7 687.4 1258.7C690.3 1258.7 692.6 1669 695.5 1669C698.5 1669 700.7 1139.6 703.7 1139.6C706.2 1139.6 708.2 1698.7 710.8 1698.7C713.4 1698.7 715.4 1128 718 1128C720.6 1128 722.7 1696.7 725.3 1696.7C727.9 1696.7 730 1131 732.6 1131C735 1131 736.9 1706.7 739.3 1706.7C741.7 1706.7 743.6 1122 746 1122C748.5 1122 750.5 1710 753 1710C755.5 1710 757.5 1119.5 760 1119.5C762.7 1119.5 764.8 1708 767.5 1708C770.1 1708 772.2 1119.5 774.9 1119.5C777.3 1119.5 779.3 1699.2 781.7 1699.2C784.1 1699.2 786.1 1119.5 788.5 1119.5C791.3 1119.5 793.5 1702.7 796.4 1702.7C799.2 1702.7 801.4 1136.5 804.2 1136.5C806.6 1136.5 808.6 1698.5 811 1698.5C813.4 1698.5 815.4 1143.5 817.8 1143.5C820.6 1143.5 822.9 1691.2 825.7 1691.2C828.5 1691.2 830.8 1153.5 833.6 1153.5C836 1153.5 837.8 1622.6 840.2 1622.6C842.6 1622.6 844.4 1127.5 846.8 1127.5C849.4 1127.5 851.5 1669.9 854.1 1669.9C856.7 1669.9 858.8 1142.5 861.4 1142.5C863.8 1142.5 865.7 1585.5 868 1585.5C870.4 1585.5 872.3 1116.5 874.7 1116.5C877 1116.5 878.7 1646 881 1646C883.3 1646 885 1113.5 887.3 1113.5C889.5 1113.5 891.2 1539.8 893.5 1539.8C895.7 1539.8 897.4 1110.5 899.6 1110.5C902 1110.5 903.8 1615 906.2 1615C908.6 1615 910.4 1116.5 912.8 1116.5C914.9 1116.5 916.6 1495.2 918.7 1495.2C920.8 1495.2 922.5 1122.5 924.6 1122.5C926.7 1122.5 928.3 1575.5 930.5 1575.5C932.6 1575.5 934.2 1104.5 936.3 1104.5C938.7 1104.5 940.5 1448.1 942.9 1448.1C945.3 1448.1 947.1 1154.5 949.5 1154.5C951.4 1154.5 952.8 1521.3 954.6 1521.3C956.5 1521.3 957.9 1091.5 959.8 1091.5C962.2 1091.5 964 1414.7 966.4 1414.7C968.8 1414.7 970.6 1145.5 973 1145.5C974.7 1145.5 976 1459.1 977.7 1459.1C979.4 1459.1 980.7 1086.5 982.4 1086.5C984.7 1086.5 986.4 1369.1 988.7 1369.1C991 1369.1 992.7 1122.5 995 1122.5C996.6 1122.5 997.8 1391.8 999.4 1391.8C1001 1391.8 1002.2 1085.5 1003.8 1085.5C1005.9 1085.5 1007.6 1344 1009.7 1344C1011.8 1344 1013.5 1113.5 1015.6 1113.5C1017 1113.5 1018.1 1319.3 1019.5 1319.3C1021 1319.3 1022.1 1078.5 1023.5 1078.5C1025.5 1078.5 1027.1 1261.7 1029 1261.7C1031 1261.7 1032.6 1118.5 1034.6 1118.5C1035.9 1118.5 1037 1255.5 1038.3 1255.5C1039.6 1255.5 1040.7 1073.5 1042 1073.5C1043.8 1073.5 1045.3 1243.6 1047.1 1243.6C1048.9 1243.6 1050.4 1101.5 1052.2 1101.5C1054.1 1101.5 1055.5 1240.6 1057.3 1240.6C1059.2 1240.6 1060.6 1066.5 1062.5 1066.5C1064.1 1066.5 1065.3 1229.3 1066.9 1229.3C1068.5 1229.3 1069.7 1091.5 1071.3 1091.5C1072.9 1091.5 1074.1 1217.5 1075.7 1217.5C1077.3 1217.5 1078.5 1054.5 1080.1 1054.5C1081.7 1054.5 1082.9 1199 1084.5 1199C1086.2 1199 1087.4 1076.5 1089 1076.5C1090.3 1076.5 1091.3 1187.4 1092.7 1187.4C1094 1187.4 1095 1038.5 1096.3 1038.5C1098.7 1038.5 1100.5 1171.5 1102.9 1171.5C1105.3 1171.5 1107.1 1038.5 1109.5 1038.5C1111.9 1038.5 1113.7 1148.3 1116.1 1148.3C1118.5 1148.3 1120.3 1030.5 1122.7 1030.5C1124.8 1030.5 1126.4 1111.6 1128.6 1111.6C1130.7 1111.6 1132.3 1020.5 1134.4 1020.5C1136.5 1020.5 1138.2 1080.6 1140.3 1080.6C1142.4 1080.6 1144.1 1010.5 1146.2 1010.5C1148.3 1010.5 1150 1049.3 1152.1 1049.3C1154.2 1049.3 1155.9 1002.5 1158 1002.5C1160.1 1002.5 1161.7 1022.1 1163.8 1022.1C1166 1022.1 1167.6 996.5 1169.7 996.5C1171.7 996.5 1173.3 1003.7 1175.3 1003.7C1177.4 1003.7 1179 990.5 1181 990.5C1183 990.5 1184.5 991.4 1186.5 991.4C1188.5 991.4 1190 985.5 1192 985.5" stroke="#00ffff" stroke-width="4.7"/>
<path d="M1192 985.5C1192.5 985.4 1193.7 985.8 1195 985C1196.3 984.2 1198.2 982.3 1200 981C1201.8 979.7 1204.2 976.3 1206 977C1207.8 977.7 1209.4 981.8 1211 985C1212.6 988.2 1214 995.5 1215.5 996C1217 996.5 1218.6 991.2 1220 988C1221.4 984.8 1222 979.4 1224 977C1226 974.6 1229.3 974.2 1232 973.5C1234.7 972.8 1237.5 972.4 1240 972.5C1242.5 972.6 1245 972.8 1247 974C1249 975.2 1250.6 976.8 1252 980C1253.4 983.2 1254.4 988 1255.5 993C1256.6 998 1257.7 1003.8 1258.5 1010C1259.3 1016.2 1260 1023.3 1260.6 1030C1261.2 1036.7 1261.5 1042.5 1262 1050C1262.5 1057.5 1263.1 1066.7 1263.6 1075C1264.1 1083.3 1264.5 1090.8 1265 1100C1265.5 1109.2 1265.9 1120.3 1266.3 1130C1266.7 1139.7 1267 1150.8 1267.3 1158C1267.6 1165.2 1267.8 1173.5 1268 1173.5C1268.2 1173.5 1268.5 1165.2 1268.7 1158C1268.9 1150.8 1269 1139.7 1269.2 1130C1269.4 1120.3 1269.5 1109.2 1269.7 1100C1269.9 1090.8 1270 1083.3 1270.2 1075C1270.4 1066.7 1270.5 1057.5 1270.7 1050C1270.9 1042.5 1271 1036.7 1271.2 1030C1271.4 1023.3 1271.6 1016.2 1271.8 1010C1272 1003.8 1272.2 998 1272.6 993C1273 988 1273.3 983.3 1274 980C1274.7 976.7 1275.7 974.7 1277 973C1278.3 971.3 1279.8 970.7 1282 970C1284.2 969.3 1287 969 1290 969C1293 969 1296.7 969.7 1300 970C1303.3 970.3 1307.7 969.8 1310 971C1312.3 972.2 1312.7 976.7 1314 977C1315.3 977.3 1316 974.2 1318 973C1320 971.8 1322.3 970.7 1326 970C1329.7 969.3 1335.2 968.8 1340 969C1344.8 969.2 1350.8 970.5 1355 971C1359.2 971.5 1361.2 972.2 1365 972C1368.8 971.8 1373 970.6 1378 970C1383 969.4 1389.7 968.7 1395 968.5C1400.3 968.3 1406.2 968.4 1410 969C1413.8 969.6 1415.5 970.8 1418 972C1420.5 973.2 1422.8 976.6 1425 976.5C1427.2 976.4 1428.5 972.8 1431 971.5C1433.5 970.2 1436 968.9 1440 968.5C1444 968.1 1449.7 968.9 1455 969C1460.3 969.1 1469.2 969 1472 969" stroke="#00ffff" stroke-width="5.2"/>
<path d="M1258.6 1003 L1264.5 997 L1272.6 1002 L1271.6 1050 L1270.6 1100 L1269.5 1150 L1268 1175 L1266.3 1150 L1264 1100 L1261.5 1050Z" fill="#00ffff" stroke="#00ffff" stroke-width="2.5"/>
</g>
<defs><clipPath id="clipA2"><rect x="706" y="864.4" width="374" height="875.6"/></clipPath></defs>
<g clip-path="url(#clipA2)" fill="none" stroke-linejoin="round" stroke-linecap="round"><path d="M283.3 1177C287.5 1177 290.8 1174 295 1174C298.7 1174 301.7 1190.4 305.4 1190.4C309.1 1190.4 312.1 1190.4 315.8 1190.4C319.6 1190.4 322.6 1211.3 326.4 1211.3C330.2 1211.3 333.2 1209.4 337 1209.4C340.6 1209.4 343.4 1224.5 347 1224.5C350.6 1224.5 353.4 1222.6 357 1222.6C360.7 1222.6 363.5 1252.1 367.2 1252.1C370.9 1252.1 373.7 1243 377.4 1243C380.8 1243 383.5 1262.2 386.9 1262.2C390.4 1262.2 393.1 1253 396.5 1253C400.3 1253 403.2 1288.1 407 1288.1C410.8 1288.1 413.7 1269.3 417.5 1269.3C420.9 1269.3 423.6 1296.9 427 1296.9C430.5 1296.9 433.1 1280.5 436.6 1280.5C440.1 1280.5 442.8 1324.6 446.2 1324.6C449.7 1324.6 452.4 1298.9 455.9 1298.9C459.4 1298.9 462 1334.4 465.5 1334.4C468.9 1334.4 471.6 1307.6 475 1307.6C478.5 1307.6 481.3 1366 484.9 1366C488.4 1366 491.2 1325 494.8 1325C498.1 1325 500.7 1374.6 504 1374.6C507.4 1374.6 510 1337.1 513.3 1337.1C516.7 1337.1 519.4 1402 522.9 1402C526.3 1402 529 1345.8 532.5 1345.8C535.7 1345.8 538.3 1409.9 541.5 1409.9C544.8 1409.9 547.3 1354 550.6 1354C554 1354 556.7 1437.8 560.1 1437.8C563.5 1437.8 566.2 1363 569.6 1363C572.7 1363 575.1 1444.9 578.2 1444.9C581.3 1444.9 583.7 1374.7 586.8 1374.7C590.1 1374.7 592.6 1476 595.9 1476C599.2 1476 601.7 1369 605 1369C607.9 1369 610.1 1484.3 613 1484.3C615.9 1484.3 618.2 1374.5 621 1374.5C624.4 1374.5 626.9 1512.1 630.3 1512.1C633.6 1512.1 636.2 1357.5 639.5 1357.5C642.2 1357.5 644.3 1538.9 647.1 1538.9C649.8 1538.9 651.9 1353.4 654.6 1353.4C657.5 1353.4 659.8 1564.2 662.7 1564.2C665.5 1564.2 667.8 1311.6 670.7 1311.6C673.7 1311.6 676 1604.5 679 1604.5C682.1 1604.5 684.4 1258.7 687.4 1258.7C690.3 1258.7 692.6 1669 695.5 1669C698.5 1669 700.7 1139.6 703.7 1139.6C706.2 1139.6 708.2 1698.7 710.8 1698.7C713.4 1698.7 715.4 1128 718 1128C720.6 1128 722.7 1696.7 725.3 1696.7C727.9 1696.7 730 1131 732.6 1131C735 1131 736.9 1706.7 739.3 1706.7C741.7 1706.7 743.6 1122 746 1122C748.5 1122 750.5 1710 753 1710C755.5 1710 757.5 1119.5 760 1119.5C762.7 1119.5 764.8 1708 767.5 1708C770.1 1708 772.2 1119.5 774.9 1119.5C777.3 1119.5 779.3 1699.2 781.7 1699.2C784.1 1699.2 786.1 1119.5 788.5 1119.5C791.3 1119.5 793.5 1702.7 796.4 1702.7C799.2 1702.7 801.4 1136.5 804.2 1136.5C806.6 1136.5 808.6 1698.5 811 1698.5C813.4 1698.5 815.4 1143.5 817.8 1143.5C820.6 1143.5 822.9 1691.2 825.7 1691.2C828.5 1691.2 830.8 1153.5 833.6 1153.5C836 1153.5 837.8 1622.6 840.2 1622.6C842.6 1622.6 844.4 1127.5 846.8 1127.5C849.4 1127.5 851.5 1669.9 854.1 1669.9C856.7 1669.9 858.8 1142.5 861.4 1142.5C863.8 1142.5 865.7 1585.5 868 1585.5C870.4 1585.5 872.3 1116.5 874.7 1116.5C877 1116.5 878.7 1646 881 1646C883.3 1646 885 1113.5 887.3 1113.5C889.5 1113.5 891.2 1539.8 893.5 1539.8C895.7 1539.8 897.4 1110.5 899.6 1110.5C902 1110.5 903.8 1615 906.2 1615C908.6 1615 910.4 1116.5 912.8 1116.5C914.9 1116.5 916.6 1495.2 918.7 1495.2C920.8 1495.2 922.5 1122.5 924.6 1122.5C926.7 1122.5 928.3 1575.5 930.5 1575.5C932.6 1575.5 934.2 1104.5 936.3 1104.5C938.7 1104.5 940.5 1448.1 942.9 1448.1C945.3 1448.1 947.1 1154.5 949.5 1154.5C951.4 1154.5 952.8 1521.3 954.6 1521.3C956.5 1521.3 957.9 1091.5 959.8 1091.5C962.2 1091.5 964 1414.7 966.4 1414.7C968.8 1414.7 970.6 1145.5 973 1145.5C974.7 1145.5 976 1459.1 977.7 1459.1C979.4 1459.1 980.7 1086.5 982.4 1086.5C984.7 1086.5 986.4 1369.1 988.7 1369.1C991 1369.1 992.7 1122.5 995 1122.5C996.6 1122.5 997.8 1391.8 999.4 1391.8C1001 1391.8 1002.2 1085.5 1003.8 1085.5C1005.9 1085.5 1007.6 1344 1009.7 1344C1011.8 1344 1013.5 1113.5 1015.6 1113.5C1017 1113.5 1018.1 1319.3 1019.5 1319.3C1021 1319.3 1022.1 1078.5 1023.5 1078.5C1025.5 1078.5 1027.1 1261.7 1029 1261.7C1031 1261.7 1032.6 1118.5 1034.6 1118.5C1035.9 1118.5 1037 1255.5 1038.3 1255.5C1039.6 1255.5 1040.7 1073.5 1042 1073.5C1043.8 1073.5 1045.3 1243.6 1047.1 1243.6C1048.9 1243.6 1050.4 1101.5 1052.2 1101.5C1054.1 1101.5 1055.5 1240.6 1057.3 1240.6C1059.2 1240.6 1060.6 1066.5 1062.5 1066.5C1064.1 1066.5 1065.3 1229.3 1066.9 1229.3C1068.5 1229.3 1069.7 1091.5 1071.3 1091.5C1072.9 1091.5 1074.1 1217.5 1075.7 1217.5C1077.3 1217.5 1078.5 1054.5 1080.1 1054.5C1081.7 1054.5 1082.9 1199 1084.5 1199C1086.2 1199 1087.4 1076.5 1089 1076.5C1090.3 1076.5 1091.3 1187.4 1092.7 1187.4C1094 1187.4 1095 1038.5 1096.3 1038.5C1098.7 1038.5 1100.5 1171.5 1102.9 1171.5C1105.3 1171.5 1107.1 1038.5 1109.5 1038.5C1111.9 1038.5 1113.7 1148.3 1116.1 1148.3C1118.5 1148.3 1120.3 1030.5 1122.7 1030.5C1124.8 1030.5 1126.4 1111.6 1128.6 1111.6C1130.7 1111.6 1132.3 1020.5 1134.4 1020.5C1136.5 1020.5 1138.2 1080.6 1140.3 1080.6C1142.4 1080.6 1144.1 1010.5 1146.2 1010.5C1148.3 1010.5 1150 1049.3 1152.1 1049.3C1154.2 1049.3 1155.9 1002.5 1158 1002.5C1160.1 1002.5 1161.7 1022.1 1163.8 1022.1C1166 1022.1 1167.6 996.5 1169.7 996.5C1171.7 996.5 1173.3 1003.7 1175.3 1003.7C1177.4 1003.7 1179 990.5 1181 990.5C1183 990.5 1184.5 991.4 1186.5 991.4C1188.5 991.4 1190 985.5 1192 985.5" stroke="#00ffff" stroke-width="5.6"/></g>
<g stroke="#222222" stroke-width="3.3" fill="none" stroke-linecap="butt">
<rect x="283.3" y="864.4" width="1185.7" height="875.6"/>
<path d="M283.3 1740v10 M283.3 864.4v-9"/>
<path d="M425.6 1740v19 M425.6 864.4v-17.5"/>
<path d="M567.9 1740v10 M567.9 864.4v-9"/>
<path d="M710.2 1740v19 M710.2 864.4v-17.5"/>
<path d="M852.4 1740v10 M852.4 864.4v-9"/>
<path d="M994.7 1740v19 M994.7 864.4v-17.5"/>
<path d="M1137 1740v10 M1137 864.4v-9"/>
<path d="M1279.3 1740v19 M1279.3 864.4v-17.5"/>
<path d="M1421.6 1740v10 M1421.6 864.4v-9"/>
<path d="M283.3 864.4h-19"/>
<path d="M283.3 952h-10"/>
<path d="M283.3 1039.5h-19"/>
<path d="M283.3 1127.1h-10"/>
<path d="M283.3 1214.6h-19"/>
<path d="M283.3 1302.2h-10"/>
<path d="M283.3 1389.8h-19"/>
<path d="M283.3 1477.3h-10"/>
<path d="M283.3 1564.9h-19"/>
<path d="M283.3 1652.4h-10"/>
<path d="M283.3 1740h-19"/>
</g>
<text x="326" y="1825" font-size="87" textLength="188.5" lengthAdjust="spacingAndGlyphs">1515</text>
<text x="610.5" y="1825" font-size="87" textLength="188.5" lengthAdjust="spacingAndGlyphs">1530</text>
<text x="894.5" y="1825" font-size="87" textLength="188.5" lengthAdjust="spacingAndGlyphs">1545</text>
<text x="1180.5" y="1825" font-size="87" textLength="188.5" lengthAdjust="spacingAndGlyphs">1560</text>
<text x="206.1" y="889.8" font-size="87" textLength="45.7" lengthAdjust="spacingAndGlyphs">5</text>
<text x="206.1" y="1064.9" font-size="87" textLength="45.7" lengthAdjust="spacingAndGlyphs">0</text>
<text x="178.7" y="1240" font-size="87" textLength="73.1" lengthAdjust="spacingAndGlyphs">-5</text>
<text x="133" y="1415.2" font-size="87" textLength="118.8" lengthAdjust="spacingAndGlyphs">-10</text>
<text x="133" y="1590.3" font-size="87" textLength="118.8" lengthAdjust="spacingAndGlyphs">-15</text>
<text x="133" y="1765.4" font-size="87" textLength="118.8" lengthAdjust="spacingAndGlyphs">-20</text>
<text x="455" y="1919" font-size="105" textLength="839.5" lengthAdjust="spacingAndGlyphs">Wavelength (nm)</text>
<text transform="translate(110.5,1592.4) rotate(-90)" font-size="105">Power (dBm)</text>
<text x="42.5" y="891.5" font-size="63" textLength="75" lengthAdjust="spacingAndGlyphs">(a)</text>
<g clip-path="url(#clipA)" stroke-linejoin="round" stroke-linecap="round">
<path d="M819.4 1416 L819.4 1745" fill="none" stroke="#fff4f4" stroke-width="4.6"/>
<path d="M805.7 1745 L805.5 1700 L805.7 1660 L806.5 1600 L807.3 1550 L808.2 1500 L809 1440 L809.6 1408 L811.5 1399 L814.6 1392 L815.1 1293 L815.4 1200 L815.6 1125 L816 1110 L816.8 1104.5 L817.8 1101.5 L818.8 1100.3 L819.8 1101.5 L820.8 1104.5 L821.6 1110 L822 1125 L822.3 1200 L822.6 1293 L823 1392 L825.8 1399 L827.4 1408 L827.6 1440 L827.9 1500 L828.3 1550 L828.9 1600 L829.3 1660 L829.6 1700 L829.8 1745Z M816.9 1412 L815.6 1440 L814.8 1500 L814.4 1600 L814.2 1684 L811.5 1689 L809.2 1694 L809 1750 L825 1750 L824.8 1694 L824.6 1686 L824.4 1600 L824 1500 L823.2 1440 L822 1412Z" fill="#ff0000" fill-rule="evenodd" stroke="#ff0000" stroke-width="5.5"/>
<path d="M770.8 1745 L771.8 1705 L773.5 1690 L777.3 1685.5 L781 1690 L782.6 1705 L783.8 1745Z" fill="#ff0000"/>
<path d="M833 1745 L833.4 1700 L836.5 1697 L840 1690 L841 1685 L845.5 1683 L846.5 1650 L849.5 1646 L852 1637 L853.5 1610 L856 1570 L858.5 1551 L861.4 1546 L864 1551 L866 1580 L867.3 1620 L869.3 1644 L871 1665 L873 1682 L875 1700 L876.6 1745Z" fill="#ff0000"/>
<path d="M862.6 1697 L866.4 1697 L867.6 1745 L862.2 1745Z" fill="#ffffff"/>
<path d="M1240.6 1745 L1241.8 1720 L1244.4 1700 L1245.2 1640 L1245.8 1609 L1248 1604 L1251.3 1602 L1252.2 1520 L1253 1442 L1255.5 1438 L1257.8 1432 L1260 1340 L1261.8 1290 L1263 1250 L1263.8 1234 L1265 1226.5 L1267 1224 L1269 1226.5 L1270.4 1234 L1271.4 1250 L1272.1 1290 L1272.8 1340 L1274.1 1436 L1275.8 1500 L1277.4 1560 L1279.5 1590 L1283.5 1583.5 L1285.4 1582 L1286.6 1586 L1287.4 1612 L1289 1628 L1293 1626 L1295 1628 L1296 1640 L1297.8 1670 L1299.6 1700 L1301 1745Z" fill="#96008c" stroke="#96008c" stroke-width="5"/>
<path d="M1267.6 1364 L1268.2 1520 L1268.6 1676" fill="none" stroke="#d070c8" stroke-width="1.5"/>
<path d="M1259.6 1690 L1262 1677 L1265.5 1675.5 L1267.6 1680 L1268.4 1745 L1258.6 1745Z" fill="#ffffff"/>
<path d="M1284.2 1595 L1285.2 1640 L1285.8 1680" fill="none" stroke="#c860c0" stroke-width="1.3"/>
</g>
<g fill="none" stroke-width="16.9" stroke-dasharray="50.55 16.83">
<rect x="761.3" y="940.3" width="119.2" height="780.2" stroke="#0070c0"/>
<rect x="1202.2" y="940" width="134.6" height="780.5" stroke="#e00000"/>
<rect x="88.8" y="50.8" width="990.1" height="702.5" stroke="#0070c0"/>
<rect x="1149.7" y="50.8" width="988" height="702.5" stroke="#e00000"/>
</g>
<path d="M820.6 762 L845.3 809.5 L829.2 809.5 L829.2 937 L812.2 937 L812.2 809.5 L796.5 809.5Z" fill="#0070c0"/>
<path d="M1269.7 762 L1294.5 809.5 L1278 809.5 L1278 925.5 L1261.4 925.5 L1261.4 809.5 L1245.2 809.5Z" fill="#e00000"/>
<defs><clipPath id="clipB"><rect x="293.4" y="96.3" width="699.4" height="516"/></clipPath>
<clipPath id="clipC"><rect x="1363" y="108" width="694.2" height="514.6"/></clipPath></defs>
<g clip-path="url(#clipB)" fill="none" stroke-linejoin="round" stroke-linecap="round">
<path d="M235 470C237.5 480 245.5 514.7 250 530C254.5 545.3 258.3 554.5 262 562C265.7 569.5 269 573.3 272 575C275 576.7 277.5 575.7 280 572C282.5 568.3 284.8 561.5 287 553C289.2 544.5 290.8 536 293.3 521C295.8 506 299.5 481.6 302.1 463.1C304.7 444.6 306.5 432.1 308.7 410C310.9 387.9 313.4 354.8 315.4 330.5C317.4 306.2 319.1 278.3 320.9 264.2C322.7 250.1 324.4 246.1 326 246.1C327.6 246.1 328.9 257.1 330.8 264.2C332.7 271.3 334.2 280.8 337.5 288.5C340.8 296.2 346.3 304 350.7 310.6C355.1 317.2 360.5 324.2 364 328.3C367.5 332.4 368.8 334.7 371.7 334.9C374.6 335.1 378.9 330.5 381.7 329.4C384.5 328.3 386.5 327.4 388.3 328.3C390.1 329.2 391.2 327.2 392.7 334.9C394.2 342.6 395.2 357 397.1 374.7C399 392.4 401.2 418.9 403.8 441C406.4 463.1 409.3 488.2 412.6 507.3C415.9 526.5 419.9 543.4 423.6 555.9C427.3 568.4 430.6 575.6 434.7 582.4C438.8 589.2 444.7 594.1 448 596.8C451.3 599.4 451.7 599.2 454.6 598.3C457.5 597.4 462.3 595.4 465.6 591.3C468.9 587.2 471.2 585.8 474.5 573.6C477.8 561.4 482.2 538.6 485.5 518.3C488.8 498 491.8 474.1 494.4 452C497 429.9 498.8 411.5 501 385.7C503.2 359.9 505.8 317.9 507.6 297.3C509.4 276.7 510.7 269 512 262C513.3 255 514.1 254.3 515.4 255.4C516.7 256.5 518.1 259.8 519.8 268.6C521.4 277.4 523.3 295.9 525.3 308.4C527.3 320.9 529.1 335.3 531.9 343.8C534.7 352.3 538.6 357.4 541.9 359.2C545.2 361 548.5 358.9 551.8 354.8C555.1 350.8 559.2 336 561.8 334.9C564.4 333.8 565.6 341.6 567.3 348.2C568.9 354.8 569.9 361.1 571.7 374.7C573.5 388.3 575.3 409.8 578.3 430C581.2 450.2 585.7 477.8 589.4 496.2C593.1 514.6 596.7 529.7 600.4 540.4C604.1 551.1 607.8 555.7 611.5 560.3C615.2 564.9 618.8 567.4 622.5 568.1C626.2 568.9 630.3 568.3 633.6 564.8C636.9 561.3 638.7 560.3 642.4 547C646.1 533.7 651.7 510.2 655.7 485.2C659.8 460.2 663.4 429.9 666.7 396.8C670 363.7 673.4 309.9 675.6 286.3C677.8 262.7 678.6 261.5 679.7 255.4C680.8 249.3 681.2 249.1 682.3 249.8C683.4 250.5 684.5 252.6 686.3 259.8C688.1 267 690.3 283 692.9 292.9C695.5 302.8 698.5 313.1 701.8 319.4C705.1 325.7 709.1 329 712.8 330.5C716.5 332 720.2 330.2 723.9 328.3C727.6 326.4 732.1 319 734.9 319.4C737.6 319.8 738.5 323.1 740.4 330.5C742.2 337.9 744 348.9 746 363.6C748 378.3 750 398.6 752.6 418.9C755.2 439.2 757.7 463.1 761.4 485.2C765.1 507.3 770.3 535.3 774.7 551.5C779.1 567.7 783.6 575.6 788 582.4C792.4 589.2 797.2 591.6 801.2 592.4C805.2 593.1 808.6 591.5 812.3 586.9C816 582.3 819.6 578.1 823.3 564.8C827 551.5 831.1 527.9 834.4 507.3C837.7 486.7 840.6 463.1 843.2 441C845.8 418.9 847.6 398.6 849.8 374.7C852 350.8 854.7 314.2 856.5 297.3C858.3 280.4 859.3 277.5 860.4 273C861.5 268.5 862 269.3 863.1 270.4C864.2 271.5 865.6 273.4 867.1 279.7C868.6 286 870 299.2 871.9 308.4C873.8 317.6 875.6 327.9 878.6 334.9C881.6 341.9 885.9 349.3 889.6 350.4C893.3 351.5 897.4 344.8 900.7 341.5C904 338.2 906.9 331.2 909.5 330.5C912.1 329.8 913.9 329.7 916.1 337.1C918.3 344.5 920.6 361.1 922.8 374.7C925 388.3 926.5 400.5 929.4 418.9C932.3 437.3 936.7 467.5 940.4 485.2C944.1 502.9 947.8 515.4 951.5 525C955.2 534.6 959.5 539 962.5 542.7C965.5 546.4 966.6 546.7 969.2 547.1C971.8 547.5 975 547.9 978 544.9C981 541.9 984.3 536.4 986.9 529.4C989.5 522.4 991.3 512.8 993.5 502.9C995.7 493 997.2 487.1 1000 470C1002.8 452.9 1008.3 411.7 1010 400" stroke="#111111" stroke-width="3.6"/>
<path d="M241 470.4C243.5 480.3 251.4 514.9 255.8 530.2C260.2 545.5 264 554.6 267.7 562.1C271.3 569.6 274.6 573.4 277.6 575.1C280.6 576.7 283.1 575.7 285.6 572.1C288.1 568.4 290.4 561.6 292.7 553.1C294.9 544.7 296.5 536.2 299.1 521.2C301.7 506.3 305.5 481.9 308.2 463.5C310.8 445 312.7 432.6 315 410.5C317.3 388.5 319.9 355.5 322 331.3C324.2 307 326 279.2 327.8 265.1C329.6 251.1 331.3 247.1 333 247.1C334.6 247.1 335.8 258.1 337.7 265.1C339.6 272.2 341 281.7 344.3 289.4C347.6 297.1 353 304.8 357.4 311.4C361.8 318 367.2 325 370.6 329.1C374.1 333.1 375.4 335.5 378.3 335.6C381.3 335.8 385.6 331.3 388.3 330.2C391.1 329.1 393.1 328.2 394.9 329.1C396.8 330 397.9 327.9 399.3 335.6C400.8 343.4 401.8 357.7 403.6 375.3C405.3 393 407.5 419.4 410 441.4C412.5 463.5 415.3 488.5 418.5 507.6C421.7 526.7 425.6 543.5 429.3 556C432.9 568.5 436.2 575.6 440.3 582.4C444.3 589.2 450.2 594.2 453.5 596.8C456.8 599.4 457.2 599.2 460.1 598.3C463 597.4 467.8 595.4 471.1 591.3C474.5 587.2 476.7 585.8 480.1 573.7C483.5 561.5 487.9 538.7 491.3 518.5C494.7 498.3 497.8 474.5 500.5 452.4C503.2 430.4 505.1 412 507.4 386.3C509.7 360.6 512.5 318.7 514.4 298.2C516.3 277.6 517.6 269.9 518.9 263C520.3 256 521.1 255.3 522.4 256.4C523.7 257.5 525.1 260.7 526.7 269.5C528.3 278.3 530.1 296.7 532 309.2C534 321.7 535.8 336.1 538.5 344.5C541.2 353 545.1 358.1 548.4 359.9C551.7 361.7 555 359.5 558.3 355.5C561.7 351.5 565.8 336.7 568.4 335.6C571 334.6 572.2 342.3 573.9 348.9C575.5 355.5 576.4 361.7 578.2 375.3C579.9 388.9 581.7 410.3 584.5 430.5C587.4 450.7 591.7 478.1 595.3 496.5C598.9 514.8 602.5 529.9 606.1 540.6C609.8 551.2 613.5 555.8 617.2 560.4C620.8 565 624.4 567.4 628.1 568.2C631.8 568.9 635.9 568.4 639.2 564.9C642.6 561.4 644.4 560.4 648.1 547.1C651.9 533.9 657.5 510.5 661.7 485.5C665.8 460.6 669.6 430.4 673.1 397.4C676.5 364.3 680.2 310.7 682.4 287.2C684.7 263.7 685.5 262.4 686.7 256.4C687.8 250.3 688.2 250.1 689.3 250.8C690.4 251.5 691.5 253.6 693.2 260.8C695 267.9 697.2 283.9 699.7 293.8C702.2 303.7 705.2 313.9 708.5 320.2C711.8 326.4 715.8 329.8 719.4 331.3C723.1 332.7 726.9 330.9 730.5 329.1C734.2 327.2 738.8 319.8 741.6 320.2C744.3 320.6 745.2 323.9 747 331.3C748.9 338.6 750.5 349.6 752.5 364.3C754.5 379 756.4 399.2 758.9 419.4C761.3 439.6 763.8 463.5 767.4 485.5C771 507.6 776 535.5 780.4 551.6C784.8 567.8 789.2 575.6 793.6 582.4C798 589.2 802.7 591.7 806.7 592.4C810.8 593.2 814.1 591.5 817.8 586.9C821.6 582.3 825.2 578.1 828.9 564.9C832.7 551.7 836.9 528.1 840.3 507.6C843.7 487 846.7 463.5 849.4 441.4C852 419.4 853.9 399.2 856.3 375.3C858.6 351.5 861.4 315.1 863.3 298.2C865.1 281.3 866.2 278.4 867.3 273.9C868.4 269.5 868.9 270.2 870 271.3C871.1 272.4 872.5 274.3 874 280.6C875.4 286.9 876.8 300 878.6 309.2C880.5 318.4 882.3 328.7 885.2 335.6C888.1 342.6 892.5 350 896.2 351.1C899.8 352.2 904 345.5 907.3 342.2C910.6 338.9 913.6 332 916.1 331.3C918.7 330.5 920.5 330.5 922.7 337.8C924.9 345.2 927.1 361.7 929.3 375.3C931.4 388.9 932.8 401 935.7 419.4C938.5 437.8 942.8 467.9 946.4 485.5C950 503.2 953.7 515.7 957.3 525.2C961 534.8 965.3 539.2 968.2 542.9C971.2 546.5 972.3 546.9 974.9 547.2C977.5 547.6 980.8 548 983.7 545.1C986.7 542.1 990.1 536.6 992.7 529.6C995.3 522.6 997.2 513 999.4 503.2C1001.6 493.3 1003.2 487.5 1006 470.4C1008.9 453.3 1014.6 412.2 1016.3 400.6" stroke="#00f000" stroke-width="3.9"/>
<path d="M248.4 468.1C250.8 478 258.7 512.4 263.2 527.6C267.6 542.8 271.5 551.9 275.1 559.3C278.7 566.7 282.1 570.5 285.1 572.2C288.1 573.8 290.6 572.9 293.1 569.2C295.6 565.6 297.9 558.8 300.1 550.4C302.4 542 304 533.5 306.5 518.7C309.1 503.8 312.9 479.6 315.5 461.2C318.1 442.9 320 430.5 322.2 408.6C324.5 386.7 327.1 353.9 329.2 329.8C331.3 305.7 333 278 334.8 264C336.7 250.1 338.3 246.1 340 246.1C341.6 246.1 342.9 257 344.7 264C346.6 271.1 348.1 280.5 351.4 288.1C354.7 295.8 360.1 303.5 364.5 310C368.9 316.6 374.3 323.6 377.8 327.6C381.3 331.6 382.5 334 385.4 334.1C388.4 334.3 392.7 329.8 395.5 328.7C398.2 327.6 400.2 326.7 402.1 327.6C403.9 328.5 405 326.5 406.4 334.1C407.9 341.8 408.9 356.1 410.7 373.6C412.5 391.1 414.7 417.4 417.2 439.3C419.8 461.2 422.6 486.1 425.9 505.1C429.1 524.1 433.1 540.8 436.7 553.3C440.4 565.7 443.7 572.8 447.7 579.5C451.8 586.3 457.7 591.2 461 593.8C464.3 596.4 464.7 596.2 467.6 595.3C470.5 594.4 475.3 592.4 478.6 588.4C481.9 584.3 484.2 582.9 487.6 570.8C490.9 558.7 495.4 536.1 498.7 516C502.1 495.9 505.2 472.2 507.8 450.2C510.5 428.3 512.3 410.1 514.6 384.5C516.9 358.9 519.6 317.3 521.5 296.9C523.3 276.4 524.6 268.8 526 261.9C527.3 254.9 528.1 254.2 529.4 255.3C530.7 256.4 532.1 259.6 533.7 268.4C535.4 277.2 537.1 295.4 539.1 307.9C541.1 320.3 542.9 334.6 545.6 343C548.4 351.4 552.3 356.4 555.6 358.2C558.9 360.1 562.2 357.9 565.5 353.9C568.8 349.9 573 335.2 575.5 334.1C578.1 333.1 579.4 340.8 581 347.3C582.6 353.9 583.5 360.1 585.3 373.6C587.1 387.1 588.9 408.4 591.8 428.4C594.7 448.5 599.1 475.8 602.7 494.1C606.3 512.3 609.9 527.3 613.6 537.9C617.2 548.5 620.9 553 624.6 557.6C628.3 562.2 631.9 564.6 635.6 565.4C639.3 566.1 643.4 565.6 646.7 562.1C650 558.6 651.8 557.6 655.5 544.4C659.3 531.3 664.9 508 669 483.2C673.1 458.3 676.9 428.4 680.3 395.5C683.7 362.6 687.3 309.3 689.5 286C691.7 262.6 692.5 261.4 693.7 255.3C694.8 249.3 695.2 249 696.3 249.8C697.4 250.5 698.5 252.6 700.3 259.7C702 266.8 704.2 282.7 706.8 292.5C709.3 302.3 712.3 312.6 715.6 318.8C718.9 325 722.9 328.3 726.6 329.8C730.2 331.3 734 329.4 737.7 327.6C741.4 325.8 745.9 318.4 748.7 318.8C751.4 319.1 752.3 322.5 754.2 329.8C756 337.1 757.7 348 759.7 362.6C761.7 377.2 763.6 397.3 766.1 417.4C768.6 437.5 771.1 461.2 774.7 483.2C778.3 505.1 783.4 532.8 787.8 548.9C792.2 565 796.6 572.8 801 579.5C805.4 586.3 810.2 588.7 814.2 589.4C818.3 590.2 821.6 588.6 825.3 584C829 579.4 832.7 575.2 836.4 562.1C840.1 548.9 844.3 525.5 847.7 505.1C851 484.6 854 461.2 856.6 439.3C859.3 417.4 861.1 397.3 863.4 373.6C865.7 349.9 868.5 313.7 870.4 296.9C872.2 280.1 873.2 277.2 874.3 272.8C875.4 268.3 875.9 269.1 877 270.2C878.1 271.3 879.6 273.1 881 279.4C882.5 285.7 883.8 298.7 885.7 307.9C887.6 317 889.4 327.2 892.3 334.1C895.3 341.1 899.6 348.4 903.3 349.5C907 350.6 911.1 344 914.4 340.7C917.8 337.4 920.7 330.5 923.3 329.8C925.8 329.1 927.6 329 929.8 336.3C932 343.6 934.3 360.1 936.4 373.6C938.6 387.1 940 399.2 942.9 417.4C945.8 435.7 950.1 465.6 953.7 483.2C957.4 500.7 961.1 513.1 964.7 522.6C968.4 532.1 972.7 536.5 975.7 540.2C978.6 543.8 979.8 544.2 982.3 544.5C984.9 544.9 988.2 545.3 991.2 542.4C994.1 539.4 997.5 533.9 1000.1 527C1002.7 520 1004.6 510.5 1006.8 500.7C1009 490.9 1010.6 485.1 1013.4 468.1C1016.2 451.1 1021.9 410.3 1023.6 398.7" stroke="#0000ff" stroke-width="3.7"/>
<path d="M257.4 468.7C259.7 478.7 267 513.1 271.3 528.4C275.5 543.6 279.1 552.7 282.7 560.2C286.2 567.7 289.5 571.5 292.4 573.1C295.4 574.8 297.9 573.8 300.5 570.1C303 566.5 305.5 559.7 307.8 551.3C310.2 542.8 311.9 534.3 314.7 519.4C317.5 504.5 321.7 480.3 324.6 461.9C327.5 443.5 329.5 431 332.2 409.1C334.8 387.1 337.9 354.2 340.3 330C342.8 305.9 345 278.1 347.1 264.1C349.1 250.1 350.8 246.1 352.5 246.1C354.1 246.1 355.2 257.1 357 264.1C358.8 271.1 360 280.6 363.2 288.3C366.4 295.9 371.7 303.6 376 310.2C380.3 316.8 385.6 323.8 389 327.8C392.4 331.9 393.6 334.2 396.6 334.4C399.5 334.6 403.9 330 406.7 328.9C409.4 327.8 411.5 326.9 413.3 327.8C415.1 328.7 416.2 326.7 417.6 334.4C418.9 342.1 419.7 356.4 421.2 374C422.7 391.6 424.5 417.9 426.7 439.9C428.9 461.9 431.3 486.8 434.3 505.8C437.2 524.9 440.9 541.7 444.4 554.1C447.8 566.6 451 573.7 455 580.5C458.9 587.3 464.8 592.2 468 594.8C471.3 597.4 471.6 597.2 474.6 596.3C477.6 595.4 482.3 593.4 485.7 589.3C489.1 585.2 491.4 583.8 495 571.7C498.5 559.6 503.3 536.9 507 516.8C510.7 496.6 514.1 472.8 517.1 450.8C520.1 428.9 522.2 410.5 524.9 384.9C527.6 359.3 530.9 317.5 533.2 297C535.4 276.5 536.8 268.9 538.2 261.9C539.6 255 540.4 254.3 541.7 255.3C543 256.4 544.4 259.7 545.9 268.5C547.4 277.3 548.9 295.6 550.6 308C552.4 320.5 554 334.8 556.6 343.2C559.2 351.7 563 356.7 566.3 358.6C569.6 360.4 572.9 358.2 576.3 354.2C579.7 350.2 584.1 335.5 586.7 334.4C589.3 333.3 590.4 341 591.9 347.6C593.4 354.2 594.2 360.4 595.8 374C597.4 387.5 598.8 408.8 601.4 429C604 449.1 607.9 476.5 611.3 494.8C614.6 513.1 618 528.1 621.5 538.7C624.9 549.3 628.6 553.9 632.2 558.5C635.8 563.1 639.4 565.5 643.1 566.3C646.7 567 650.8 566.5 654.2 563C657.6 559.5 659.4 558.5 663.3 545.3C667.3 532.1 673.3 508.7 677.8 483.8C682.3 458.9 686.5 428.9 690.4 395.9C694.3 363 698.8 309.5 701.4 286.1C704 262.6 704.8 261.4 706 255.3C707.3 249.3 707.6 249 708.7 249.8C709.8 250.5 710.9 252.6 712.5 259.7C714.2 266.9 716.1 282.8 718.5 292.6C720.9 302.5 723.7 312.8 726.9 319C730.1 325.2 734.1 328.5 737.7 330C741.4 331.5 745.2 329.7 748.9 327.8C752.6 326 757.3 318.6 760 319C762.8 319.3 763.6 322.7 765.3 330C767.1 337.3 768.6 348.3 770.3 362.9C772.1 377.6 773.7 397.8 775.9 417.9C778.1 438.1 780.2 461.9 783.5 483.8C786.8 505.8 791.4 533.7 795.6 549.8C799.7 565.9 804 573.7 808.3 580.5C812.6 587.3 817.3 589.7 821.3 590.4C825.3 591.2 828.7 589.5 832.5 585C836.3 580.4 840 576.2 843.9 563C847.8 549.8 852.4 526.3 856.1 505.8C859.8 485.3 863.1 461.9 866.1 439.9C869.1 417.9 871.3 397.8 873.9 374C876.6 350.2 880 313.9 882.1 297C884.1 280.2 885.2 277.3 886.4 272.8C887.6 268.4 888.1 269.2 889.1 270.3C890.2 271.4 891.6 273.2 893 279.5C894.3 285.8 895.5 298.9 897.2 308C899 317.2 900.6 327.4 903.5 334.4C906.3 341.4 910.5 348.7 914.2 349.8C917.8 350.9 922.1 344.3 925.4 341C928.8 337.7 931.9 330.7 934.4 330C937 329.3 938.8 329.3 940.9 336.6C943 343.9 945 360.4 946.9 374C948.9 387.5 950.1 399.6 952.7 417.9C955.3 436.2 959.1 466.3 962.5 483.8C965.8 501.4 969.3 513.9 972.8 523.4C976.4 532.9 980.6 537.4 983.5 541C986.4 544.7 987.6 545 990.1 545.4C992.7 545.8 996 546.1 999 543.2C1002 540.3 1005.5 534.8 1008.2 527.8C1010.9 520.8 1012.9 511.3 1015.3 501.4C1017.6 491.6 1019.3 485.8 1022.4 468.7C1025.4 451.7 1031.8 410.7 1033.7 399.1" stroke="#a838ff" stroke-width="3.4"/>
<path d="M264 468.8C266.2 478.7 273.2 512.9 277.3 528C281.4 543.1 285 552.1 288.5 559.5C291.9 566.9 295.2 570.7 298.1 572.3C301.1 574 303.6 573 306.2 569.4C308.8 565.8 311.3 559 313.7 550.6C316.2 542.3 318 533.9 320.9 519.1C323.8 504.3 328.2 480.3 331.2 462C334.3 443.8 336.5 431.5 339.3 409.7C342.1 387.9 345.4 355.3 348.1 331.3C350.8 307.3 353.3 279.8 355.4 265.9C357.6 252.1 359.3 248.1 361 248.1C362.6 248.1 363.6 259 365.3 265.9C367 272.9 368.2 282.3 371.4 289.9C374.5 297.5 379.7 305.1 384 311.7C388.2 318.2 393.4 325.1 396.8 329.1C400.2 333.1 401.4 335.5 404.3 335.6C407.2 335.8 411.7 331.3 414.4 330.2C417.2 329.1 419.3 328.2 421.1 329.1C422.9 330 424 328 425.3 335.6C426.6 343.3 427.3 357.4 428.6 374.9C430 392.3 431.6 418.4 433.5 440.2C435.5 462 437.8 486.7 440.5 505.6C443.3 524.5 446.9 541.2 450.2 553.5C453.6 565.8 456.7 572.9 460.6 579.6C464.5 586.3 470.3 591.2 473.5 593.8C476.8 596.4 477.1 596.2 480.1 595.3C483.1 594.4 487.9 592.5 491.3 588.4C494.7 584.3 497 582.9 500.7 570.9C504.3 559 509.3 536.4 513.2 516.4C517 496.5 520.7 472.9 523.8 451.1C527 429.3 529.3 411.1 532.2 385.7C535.1 360.3 538.8 318.9 541.2 298.6C543.6 278.2 545.1 270.7 546.6 263.8C548.1 256.9 548.9 256.2 550.1 257.3C551.4 258.4 552.8 261.6 554.2 270.3C555.6 279 556.9 297.2 558.6 309.5C560.3 321.9 561.7 336.1 564.3 344.4C566.8 352.8 570.6 357.8 573.8 359.6C577.1 361.4 580.4 359.2 583.9 355.3C587.3 351.3 591.8 336.7 594.4 335.6C597 334.6 598.1 342.2 599.5 348.7C601 355.3 601.8 361.4 603.2 374.9C604.7 388.3 605.9 409.4 608.3 429.4C610.7 449.3 614.5 476.5 617.6 494.6C620.8 512.8 624.1 527.7 627.5 538.2C630.8 548.7 634.5 553.3 638 557.8C641.6 562.4 645.1 564.8 648.8 565.5C652.5 566.3 656.6 565.7 660 562.3C663.4 558.8 665.2 557.8 669.3 544.7C673.3 531.6 679.5 508.5 684.2 483.8C689 459.1 693.4 429.3 697.6 396.7C701.8 364 706.7 311 709.5 287.7C712.3 264.5 713.2 263.3 714.4 257.3C715.7 251.3 716.1 251 717.2 251.7C718.3 252.5 719.4 254.5 720.9 261.6C722.5 268.7 724.3 284.4 726.6 294.2C728.9 304 731.7 314.2 734.8 320.4C738 326.5 741.9 329.8 745.5 331.3C749.2 332.8 752.9 331 756.7 329.1C760.4 327.3 765.2 320 767.9 320.4C770.7 320.7 771.5 324 773.1 331.3C774.8 338.6 776.2 349.4 777.8 363.9C779.5 378.5 780.9 398.5 782.9 418.4C785 438.4 786.9 462 789.9 483.8C793 505.6 797.5 533.2 801.5 549.2C805.5 565.1 809.7 572.9 813.9 579.6C818.2 586.3 822.8 588.7 826.9 589.5C830.9 590.2 834.3 588.6 838.1 584.1C841.9 579.5 845.7 575.3 849.7 562.3C853.7 549.2 858.5 525.9 862.3 505.6C866.2 485.2 869.8 462 872.9 440.2C876.1 418.4 878.5 398.5 881.3 374.9C884.2 351.3 887.9 315.3 890.1 298.6C892.3 281.9 893.5 279 894.7 274.6C895.9 270.2 896.4 271 897.4 272.1C898.5 273.2 899.9 275 901.2 281.2C902.5 287.5 903.5 300.4 905.2 309.5C906.9 318.6 908.4 328.7 911.2 335.6C914 342.5 918.1 349.8 921.8 350.9C925.4 352 929.7 345.4 933.1 342.1C936.5 338.9 939.6 332 942.2 331.3C944.8 330.6 946.6 330.5 948.6 337.8C950.7 345.1 952.5 361.4 954.3 374.9C956.2 388.3 957.3 400.3 959.7 418.4C962.2 436.6 965.7 466.4 968.9 483.8C972.2 501.2 975.5 513.6 979 523C982.4 532.5 986.6 536.9 989.5 540.5C992.3 544.1 993.5 544.5 996.1 544.8C998.6 545.2 1001.9 545.6 1004.9 542.7C1008 539.7 1011.5 534.3 1014.3 527.4C1017 520.5 1019.1 511 1021.6 501.3C1024 491.5 1025.7 485.7 1029 468.8C1032.2 451.9 1038.9 411.3 1040.8 399.8" stroke="#ff18ff" stroke-width="3.9"/>
<path d="M553 625C553.2 622.7 553.1 623.2 554 611C554.9 598.8 556.7 572.5 558.5 551.5C560.3 530.5 562.8 502.5 565 485.2C567.2 467.9 569.1 457.6 571.7 447.6C574.3 437.7 577.5 430.6 580.6 425.5C583.7 420.4 587.6 415.9 590.5 416.7C593.4 417.4 595.8 420.4 598.2 430C600.6 439.6 602.7 457.5 604.9 474.1C607.1 490.7 609.7 512.8 611.5 529.4C613.3 546 614.8 564.7 615.9 573.6C617 582.5 617.2 586.7 618.1 583C619 579.3 619.9 571.5 621.4 551.5C622.9 531.5 625 492.5 627 463C629 433.5 631 400.5 633.6 374.7C636.2 348.9 639.8 324.5 642.4 308.4C645 292.3 646.8 286.5 649 278C651.2 269.5 653.5 263.1 655.7 257.5C657.9 251.9 659.8 247.9 662 244.5C664.2 241.1 666.8 238.8 669 237C671.2 235.2 673.2 234.5 675 233.8C676.8 233.1 678.2 232.8 680 233C681.8 233.2 683.9 233.5 686 235.2C688.1 236.9 690.8 239.8 692.9 243C695 246.2 696.6 249.9 698.5 254.5C700.4 259.1 701.6 261.8 704 270.8C706.4 279.8 709.8 294 712.8 308.4C715.8 322.8 718.8 340.4 721.7 357C724.7 373.6 727.8 396.2 730.5 407.8C733.2 419.4 735.6 425.1 738.2 426.6C740.8 428.1 743.2 419.6 746 416.7C748.8 413.8 751.9 409 754.8 409C757.7 409 760.6 409.5 763.6 416.7C766.6 423.9 769.9 438.8 772.5 452C775.1 465.2 776.9 479.6 779.1 496.2C781.3 512.8 783.7 532.4 785.7 551.5C787.7 570.6 790.1 597.9 791.3 611C792.5 624.1 792.7 626.8 793 630" stroke="#ff0000" stroke-width="5.4"/>
<path d="M898.5 615 L905 598 L911 590 L917.2 587.5 L923 590 L929 598 L935.5 615" stroke="#ff0000" stroke-width="5"/>
<path d="M522 613 L527.5 609.5 L533 613" stroke="#ff0000" stroke-width="4"/>
</g>
<g stroke="#747474" stroke-width="3.4" fill="none">
<rect x="293.4" y="96.3" width="699.4" height="515"/>
<path d="M293.4 611.3v9 M293.4 96.3v-11"/>
<path d="M410 611.3v5.5 M410 96.3v-6.5"/>
<path d="M526.5 611.3v9 M526.5 96.3v-11"/>
<path d="M643.1 611.3v5.5 M643.1 96.3v-6.5"/>
<path d="M759.7 611.3v9 M759.7 96.3v-11"/>
<path d="M876.2 611.3v5.5 M876.2 96.3v-6.5"/>
<path d="M992.8 611.3v9 M992.8 96.3v-11"/>
<path d="M293.4 199.3h-11"/>
<path d="M293.4 302.3h-6"/>
<path d="M293.4 405.3h-11"/>
<path d="M293.4 508.3h-6"/>
<path d="M293.4 611.3h-11"/>
</g>
<path d="M293.4 96.3v515" stroke="#505050" stroke-width="2.6"/>
<text x="292.5" y="661.5" font-size="48.6" text-anchor="middle">1534</text>
<text x="525.5" y="661.5" font-size="48.6" text-anchor="middle">1535</text>
<text x="759" y="661.5" font-size="48.6" text-anchor="middle">1536</text>
<text x="992" y="661.5" font-size="48.6" text-anchor="middle">1537</text>
<text x="277" y="209.5" font-size="48.6" text-anchor="end">0</text>
<text x="277" y="417" font-size="48.6" text-anchor="end">-10</text>
<text x="277" y="622" font-size="48.6" text-anchor="end">-20</text>
<text x="394" y="717" font-size="61.8">Wavelength (nm)</text>
<text transform="translate(174.5,580) rotate(-90)" font-size="60.5">Power (dBm)</text>
<text x="135.5" y="137.5" font-size="66" textLength="81" lengthAdjust="spacingAndGlyphs">(b)</text>
<text x="324.5" y="177" font-size="72.5" textLength="137" lengthAdjust="spacingAndGlyphs">60%</text>
<text x="611" y="177.5" font-size="72.5" textLength="99" lengthAdjust="spacingAndGlyphs" style="fill:#ff33dd">0%</text>
<path d="M474 146.5 H560 V134.5 L592 152 L560 169.5 V157.5 H474Z" fill="#0070c0"/>
<g clip-path="url(#clipC)" fill="none" stroke-linejoin="round" stroke-linecap="round">
<path d="M1355 191.5C1356.2 191.5 1358.4 191.5 1362.5 191.7C1366.6 191.9 1373.2 193.1 1379.8 192.8C1386.4 192.6 1394.5 190.3 1401.9 190.2C1409.3 190.1 1417 192.4 1424 192.4C1431 192.4 1438.4 189.9 1443.9 190.2C1449.4 190.4 1452.5 192.7 1457.1 193.9C1461.7 195.1 1467.1 197.1 1471.5 197.2C1475.9 197.3 1479.4 195.7 1483.6 194.6C1487.8 193.5 1492.8 190.5 1496.9 190.6C1501 190.7 1504 193.2 1508 195C1512 196.8 1516.8 201.1 1521.2 201.7C1525.6 202.2 1530.3 199.8 1534.5 198.3C1538.7 196.8 1542.5 192.8 1546.6 192.8C1550.6 192.8 1554.8 196.5 1558.8 198.3C1562.8 200.2 1566.9 203.3 1570.9 203.9C1575 204.5 1580 202.4 1583.1 202.1C1586.2 201.8 1586.8 200.7 1589.7 202.1C1592.7 203.5 1596.8 207.6 1600.8 210.5C1604.8 213.4 1610 218.9 1614 219.3C1618 219.7 1621.2 215.8 1625.1 212.7C1629 209.6 1633.9 201.3 1637.2 200.6C1640.5 199.9 1642.2 202.6 1645 208.3C1647.8 214 1650.8 227.4 1653.8 234.8C1656.8 242.2 1659.9 248.4 1662.7 252.5C1665.5 256.6 1667.5 259.1 1670.4 259.1C1673.3 259.1 1677 255.3 1680.3 252.5C1683.6 249.7 1687.3 242.9 1690.3 242.5C1693.2 242.1 1695.2 243.9 1698 250.3C1700.8 256.8 1704 270.1 1706.9 281.2C1709.9 292.2 1712.8 307.8 1715.7 316.6C1718.6 325.5 1722.3 330.9 1724.5 334.3C1726.7 337.7 1726.8 338 1729 336.9C1731.2 335.8 1734.7 332.8 1737.6 327.6C1740.5 322.4 1743.1 315.8 1746.4 305.5C1749.7 295.2 1754.2 277.8 1757.5 265.7C1760.8 253.5 1763.4 240.7 1766.3 232.6C1769.2 224.5 1771.4 221.5 1775.1 217.1C1778.8 212.7 1783.2 209.6 1788.4 206.1C1793.6 202.6 1800.2 198.7 1806.1 196.1C1812 193.5 1815.7 191.9 1823.8 190.6C1831.9 189.3 1845.9 188.8 1854.7 188.4C1863.5 188 1868.7 188.1 1876.8 188.4C1884.9 188.7 1894.8 190.4 1903.3 190.2C1911.8 190 1919.5 187.4 1927.6 187.3C1935.7 187.2 1943.8 189.5 1951.9 189.5C1960 189.5 1970.3 187.5 1976.2 187.3C1982.1 187.1 1981.8 188.6 1987.3 188.4C1992.8 188.2 2003.5 186 2009.4 186.2C2015.3 186.4 2017.6 188.3 2022.7 189.5C2027.8 190.7 2034.6 193.1 2040.3 193.3C2046 193.5 2052.8 191.3 2056.9 190.6C2061 189.9 2063.7 189.3 2065 189" stroke="#00e0ff" stroke-width="5" transform="translate(-0.6,0.4)"/>
<path d="M1355 191.5C1356.2 191.5 1358.4 191.5 1362.5 191.7C1366.6 191.9 1373.2 193.1 1379.8 192.8C1386.4 192.6 1394.5 190.3 1401.9 190.2C1409.3 190.1 1417 192.4 1424 192.4C1431 192.4 1438.4 189.9 1443.9 190.2C1449.4 190.4 1452.5 192.7 1457.1 193.9C1461.7 195.1 1467.1 197.1 1471.5 197.2C1475.9 197.3 1479.4 195.7 1483.6 194.6C1487.8 193.5 1492.8 190.5 1496.9 190.6C1501 190.7 1504 193.2 1508 195C1512 196.8 1516.8 201.1 1521.2 201.7C1525.6 202.2 1530.3 199.8 1534.5 198.3C1538.7 196.8 1542.5 192.8 1546.6 192.8C1550.6 192.8 1554.8 196.5 1558.8 198.3C1562.8 200.2 1566.9 203.3 1570.9 203.9C1575 204.5 1580 202.4 1583.1 202.1C1586.2 201.8 1586.8 200.7 1589.7 202.1C1592.7 203.5 1596.8 207.6 1600.8 210.5C1604.8 213.4 1610 218.9 1614 219.3C1618 219.7 1621.2 215.8 1625.1 212.7C1629 209.6 1633.9 201.3 1637.2 200.6C1640.5 199.9 1642.2 202.6 1645 208.3C1647.8 214 1650.8 227.4 1653.8 234.8C1656.8 242.2 1659.9 248.4 1662.7 252.5C1665.5 256.6 1667.5 259.1 1670.4 259.1C1673.3 259.1 1677 255.3 1680.3 252.5C1683.6 249.7 1687.3 242.9 1690.3 242.5C1693.2 242.1 1695.2 243.9 1698 250.3C1700.8 256.8 1704 270.1 1706.9 281.2C1709.9 292.2 1712.8 307.8 1715.7 316.6C1718.6 325.5 1722.3 330.9 1724.5 334.3C1726.7 337.7 1726.8 338 1729 336.9C1731.2 335.8 1734.7 332.8 1737.6 327.6C1740.5 322.4 1743.1 315.8 1746.4 305.5C1749.7 295.2 1754.2 277.8 1757.5 265.7C1760.8 253.5 1763.4 240.7 1766.3 232.6C1769.2 224.5 1771.4 221.5 1775.1 217.1C1778.8 212.7 1783.2 209.6 1788.4 206.1C1793.6 202.6 1800.2 198.7 1806.1 196.1C1812 193.5 1815.7 191.9 1823.8 190.6C1831.9 189.3 1845.9 188.8 1854.7 188.4C1863.5 188 1868.7 188.1 1876.8 188.4C1884.9 188.7 1894.8 190.4 1903.3 190.2C1911.8 190 1919.5 187.4 1927.6 187.3C1935.7 187.2 1943.8 189.5 1951.9 189.5C1960 189.5 1970.3 187.5 1976.2 187.3C1982.1 187.1 1981.8 188.6 1987.3 188.4C1992.8 188.2 2003.5 186 2009.4 186.2C2015.3 186.4 2017.6 188.3 2022.7 189.5C2027.8 190.7 2034.6 193.1 2040.3 193.3C2046 193.5 2052.8 191.3 2056.9 190.6C2061 189.9 2063.7 189.3 2065 189" stroke="#00e060" stroke-width="3.4" transform="translate(0.9,-0.5)"/>
<path d="M1355 191.5C1356.2 191.5 1358.4 191.5 1362.5 191.7C1366.6 191.9 1373.2 193.1 1379.8 192.8C1386.4 192.6 1394.5 190.3 1401.9 190.2C1409.3 190.1 1417 192.4 1424 192.4C1431 192.4 1438.4 189.9 1443.9 190.2C1449.4 190.4 1452.5 192.7 1457.1 193.9C1461.7 195.1 1467.1 197.1 1471.5 197.2C1475.9 197.3 1479.4 195.7 1483.6 194.6C1487.8 193.5 1492.8 190.5 1496.9 190.6C1501 190.7 1504 193.2 1508 195C1512 196.8 1516.8 201.1 1521.2 201.7C1525.6 202.2 1530.3 199.8 1534.5 198.3C1538.7 196.8 1542.5 192.8 1546.6 192.8C1550.6 192.8 1554.8 196.5 1558.8 198.3C1562.8 200.2 1566.9 203.3 1570.9 203.9C1575 204.5 1580 202.4 1583.1 202.1C1586.2 201.8 1586.8 200.7 1589.7 202.1C1592.7 203.5 1596.8 207.6 1600.8 210.5C1604.8 213.4 1610 218.9 1614 219.3C1618 219.7 1621.2 215.8 1625.1 212.7C1629 209.6 1633.9 201.3 1637.2 200.6C1640.5 199.9 1642.2 202.6 1645 208.3C1647.8 214 1650.8 227.4 1653.8 234.8C1656.8 242.2 1659.9 248.4 1662.7 252.5C1665.5 256.6 1667.5 259.1 1670.4 259.1C1673.3 259.1 1677 255.3 1680.3 252.5C1683.6 249.7 1687.3 242.9 1690.3 242.5C1693.2 242.1 1695.2 243.9 1698 250.3C1700.8 256.8 1704 270.1 1706.9 281.2C1709.9 292.2 1712.8 307.8 1715.7 316.6C1718.6 325.5 1722.3 330.9 1724.5 334.3C1726.7 337.7 1726.8 338 1729 336.9C1731.2 335.8 1734.7 332.8 1737.6 327.6C1740.5 322.4 1743.1 315.8 1746.4 305.5C1749.7 295.2 1754.2 277.8 1757.5 265.7C1760.8 253.5 1763.4 240.7 1766.3 232.6C1769.2 224.5 1771.4 221.5 1775.1 217.1C1778.8 212.7 1783.2 209.6 1788.4 206.1C1793.6 202.6 1800.2 198.7 1806.1 196.1C1812 193.5 1815.7 191.9 1823.8 190.6C1831.9 189.3 1845.9 188.8 1854.7 188.4C1863.5 188 1868.7 188.1 1876.8 188.4C1884.9 188.7 1894.8 190.4 1903.3 190.2C1911.8 190 1919.5 187.4 1927.6 187.3C1935.7 187.2 1943.8 189.5 1951.9 189.5C1960 189.5 1970.3 187.5 1976.2 187.3C1982.1 187.1 1981.8 188.6 1987.3 188.4C1992.8 188.2 2003.5 186 2009.4 186.2C2015.3 186.4 2017.6 188.3 2022.7 189.5C2027.8 190.7 2034.6 193.1 2040.3 193.3C2046 193.5 2052.8 191.3 2056.9 190.6C2061 189.9 2063.7 189.3 2065 189" stroke="#1030ff" stroke-width="3.2"/>
<path d="M1585.5 640C1585.7 636.9 1586 630.8 1586.7 621.6C1587.4 612.4 1588.5 596.6 1589.5 585C1590.5 573.4 1591.8 560.5 1593 552C1594.2 543.5 1595.8 537.8 1597 534C1598.2 530.2 1599.3 529.5 1600.5 529.5C1601.7 529.5 1602.8 530.2 1604 534C1605.2 537.8 1606.4 543.5 1607.5 552C1608.6 560.5 1609.6 573.4 1610.5 585C1611.4 596.6 1612.5 612.4 1613.1 621.6C1613.7 630.8 1614 636.9 1614.2 640" stroke="#990099" stroke-width="4.6"/>
<path d="M1623 640C1623.2 636.9 1623.7 634.9 1624.3 621.6C1624.9 608.3 1625.6 580.6 1626.5 560C1627.4 539.4 1628.2 515.5 1629.5 497.8C1630.8 480.1 1632.2 466.1 1634 453.6C1635.8 441.1 1638.4 429.4 1640.6 423C1642.8 416.6 1645 414.7 1647.2 415C1649.4 415.3 1651.6 417.8 1653.8 425C1656 432.2 1658.6 445.9 1660.4 458C1662.2 470.1 1663.8 480.8 1664.9 497.8C1666.1 514.8 1666.7 539.4 1667.3 560C1667.9 580.6 1668.2 608.3 1668.6 621.6C1668.9 634.9 1669.3 636.9 1669.4 640" stroke="#990099" stroke-width="4.6"/>
<path d="M1669.2 640C1669.3 636.9 1669.6 634.9 1670 621.6C1670.4 608.3 1670.9 580.6 1671.5 560C1672.1 539.4 1672.6 519.2 1673.7 497.8C1674.8 476.4 1676.2 449.2 1678.1 431.5C1679.9 413.8 1682.2 400.9 1684.8 391.7C1687.4 382.5 1689.2 379.7 1693.6 376.2C1698 372.7 1705.4 371.2 1711.3 370.7C1717.2 370.1 1723.5 370.9 1729 372.9C1734.5 374.9 1739.8 378.7 1744.2 382.9C1748.6 387.1 1751.9 392.1 1755.2 398.3C1758.5 404.6 1761.5 411.2 1764.1 420.4C1766.7 429.6 1768.7 440.7 1770.7 453.6C1772.7 466.5 1774.3 480.1 1776.2 497.8C1778.1 515.5 1780.2 539.4 1782 560C1783.8 580.6 1785.9 608.3 1787 621.6C1788.1 634.9 1788.2 636.9 1788.4 640" stroke="#990099" stroke-width="4.6"/>
</g>
<g stroke="#747474" stroke-width="3.4" fill="none">
<rect x="1363" y="108.1" width="694.2" height="513.5"/>
<path d="M1363 621.6v5.5 M1363 108.1v-6.5"/>
<path d="M1462.2 621.6v9 M1462.2 108.1v-11"/>
<path d="M1561.3 621.6v5.5 M1561.3 108.1v-6.5"/>
<path d="M1660.5 621.6v9 M1660.5 108.1v-11"/>
<path d="M1759.7 621.6v5.5 M1759.7 108.1v-6.5"/>
<path d="M1858.9 621.6v9 M1858.9 108.1v-11"/>
<path d="M1958 621.6v5.5 M1958 108.1v-6.5"/>
<path d="M2057.2 621.6v9 M2057.2 108.1v-11"/>
<path d="M1363 108.1h-11"/>
<path d="M1363 172.3h-6"/>
<path d="M1363 236.5h-11"/>
<path d="M1363 300.7h-6"/>
<path d="M1363 364.9h-11"/>
<path d="M1363 429h-6"/>
<path d="M1363 493.2h-11"/>
<path d="M1363 557.4h-6"/>
<path d="M1363 621.6h-11"/>
</g>
<path d="M1363 108.1v513.5" stroke="#505050" stroke-width="2.6"/>
<text x="1461.5" y="671.5" font-size="48.6" text-anchor="middle">1558</text>
<text x="1659.5" y="671.5" font-size="48.6" text-anchor="middle">1559</text>
<text x="1857.5" y="671.5" font-size="48.6" text-anchor="middle">1560</text>
<text x="2055.5" y="671.5" font-size="48.6" text-anchor="middle">1561</text>
<text x="1344.5" y="121.5" font-size="48.6" text-anchor="end">5</text>
<text x="1344.5" y="252.5" font-size="48.6" text-anchor="end">0</text>
<text x="1344.5" y="381" font-size="48.6" text-anchor="end">-5</text>
<text x="1344.5" y="510" font-size="48.6" text-anchor="end">-10</text>
<text x="1344.5" y="634.5" font-size="48.6" text-anchor="end">-15</text>
<text x="1477" y="720.5" font-size="61.5">Wavelength (nm)</text>
<text transform="translate(1246.5,591.5) rotate(-90)" font-size="60.5">Power (dBm)</text>
<text x="1175" y="130.5" font-size="67" textLength="75" lengthAdjust="spacingAndGlyphs">(c)</text>
<g fill="none" stroke="#000" stroke-width="5">
<rect x="1507.7" y="850" width="701.2" height="660.5"/>
<rect x="1507.7" y="1526" width="701.2" height="222.2"/>
</g>
<text x="1544" y="932.5" font-size="62" textLength="641" lengthAdjust="spacingAndGlyphs">Ethanol concentration</text>
<text x="1718" y="1016" font-size="62" textLength="309" lengthAdjust="spacingAndGlyphs">in gasoline</text>
<g fill="none" stroke-width="13" stroke-linecap="round">
<path d="M1648.5 1130.7H1789.7" stroke="#0000ff"/>
<path d="M1648.5 1283.2H1789.7" stroke="#ff80ff"/>
<path d="M1648.5 1434.6H1789.7" stroke="#00ffff"/>
</g>
<g fill="none" stroke-width="17" stroke-linecap="butt">
<path d="M1636 1583H1790" stroke="#ff0000"/>
<path d="M1636 1696.7H1790" stroke="#7030a0"/>
</g>
<text x="1842" y="1157.5" font-size="84" textLength="164" lengthAdjust="spacingAndGlyphs">60%</text>
<text x="1842" y="1312.5" font-size="84" textLength="164" lengthAdjust="spacingAndGlyphs">30%</text>
<text x="1841" y="1471" font-size="84" textLength="118" lengthAdjust="spacingAndGlyphs">0%</text>
<text x="1819" y="1615.5" font-size="87" textLength="222" lengthAdjust="spacingAndGlyphs">FBG 1</text>
<text x="1819" y="1727.5" font-size="87" textLength="222" lengthAdjust="spacingAndGlyphs">FBG 2</text>
</g>
</svg>
</body>
</html>
